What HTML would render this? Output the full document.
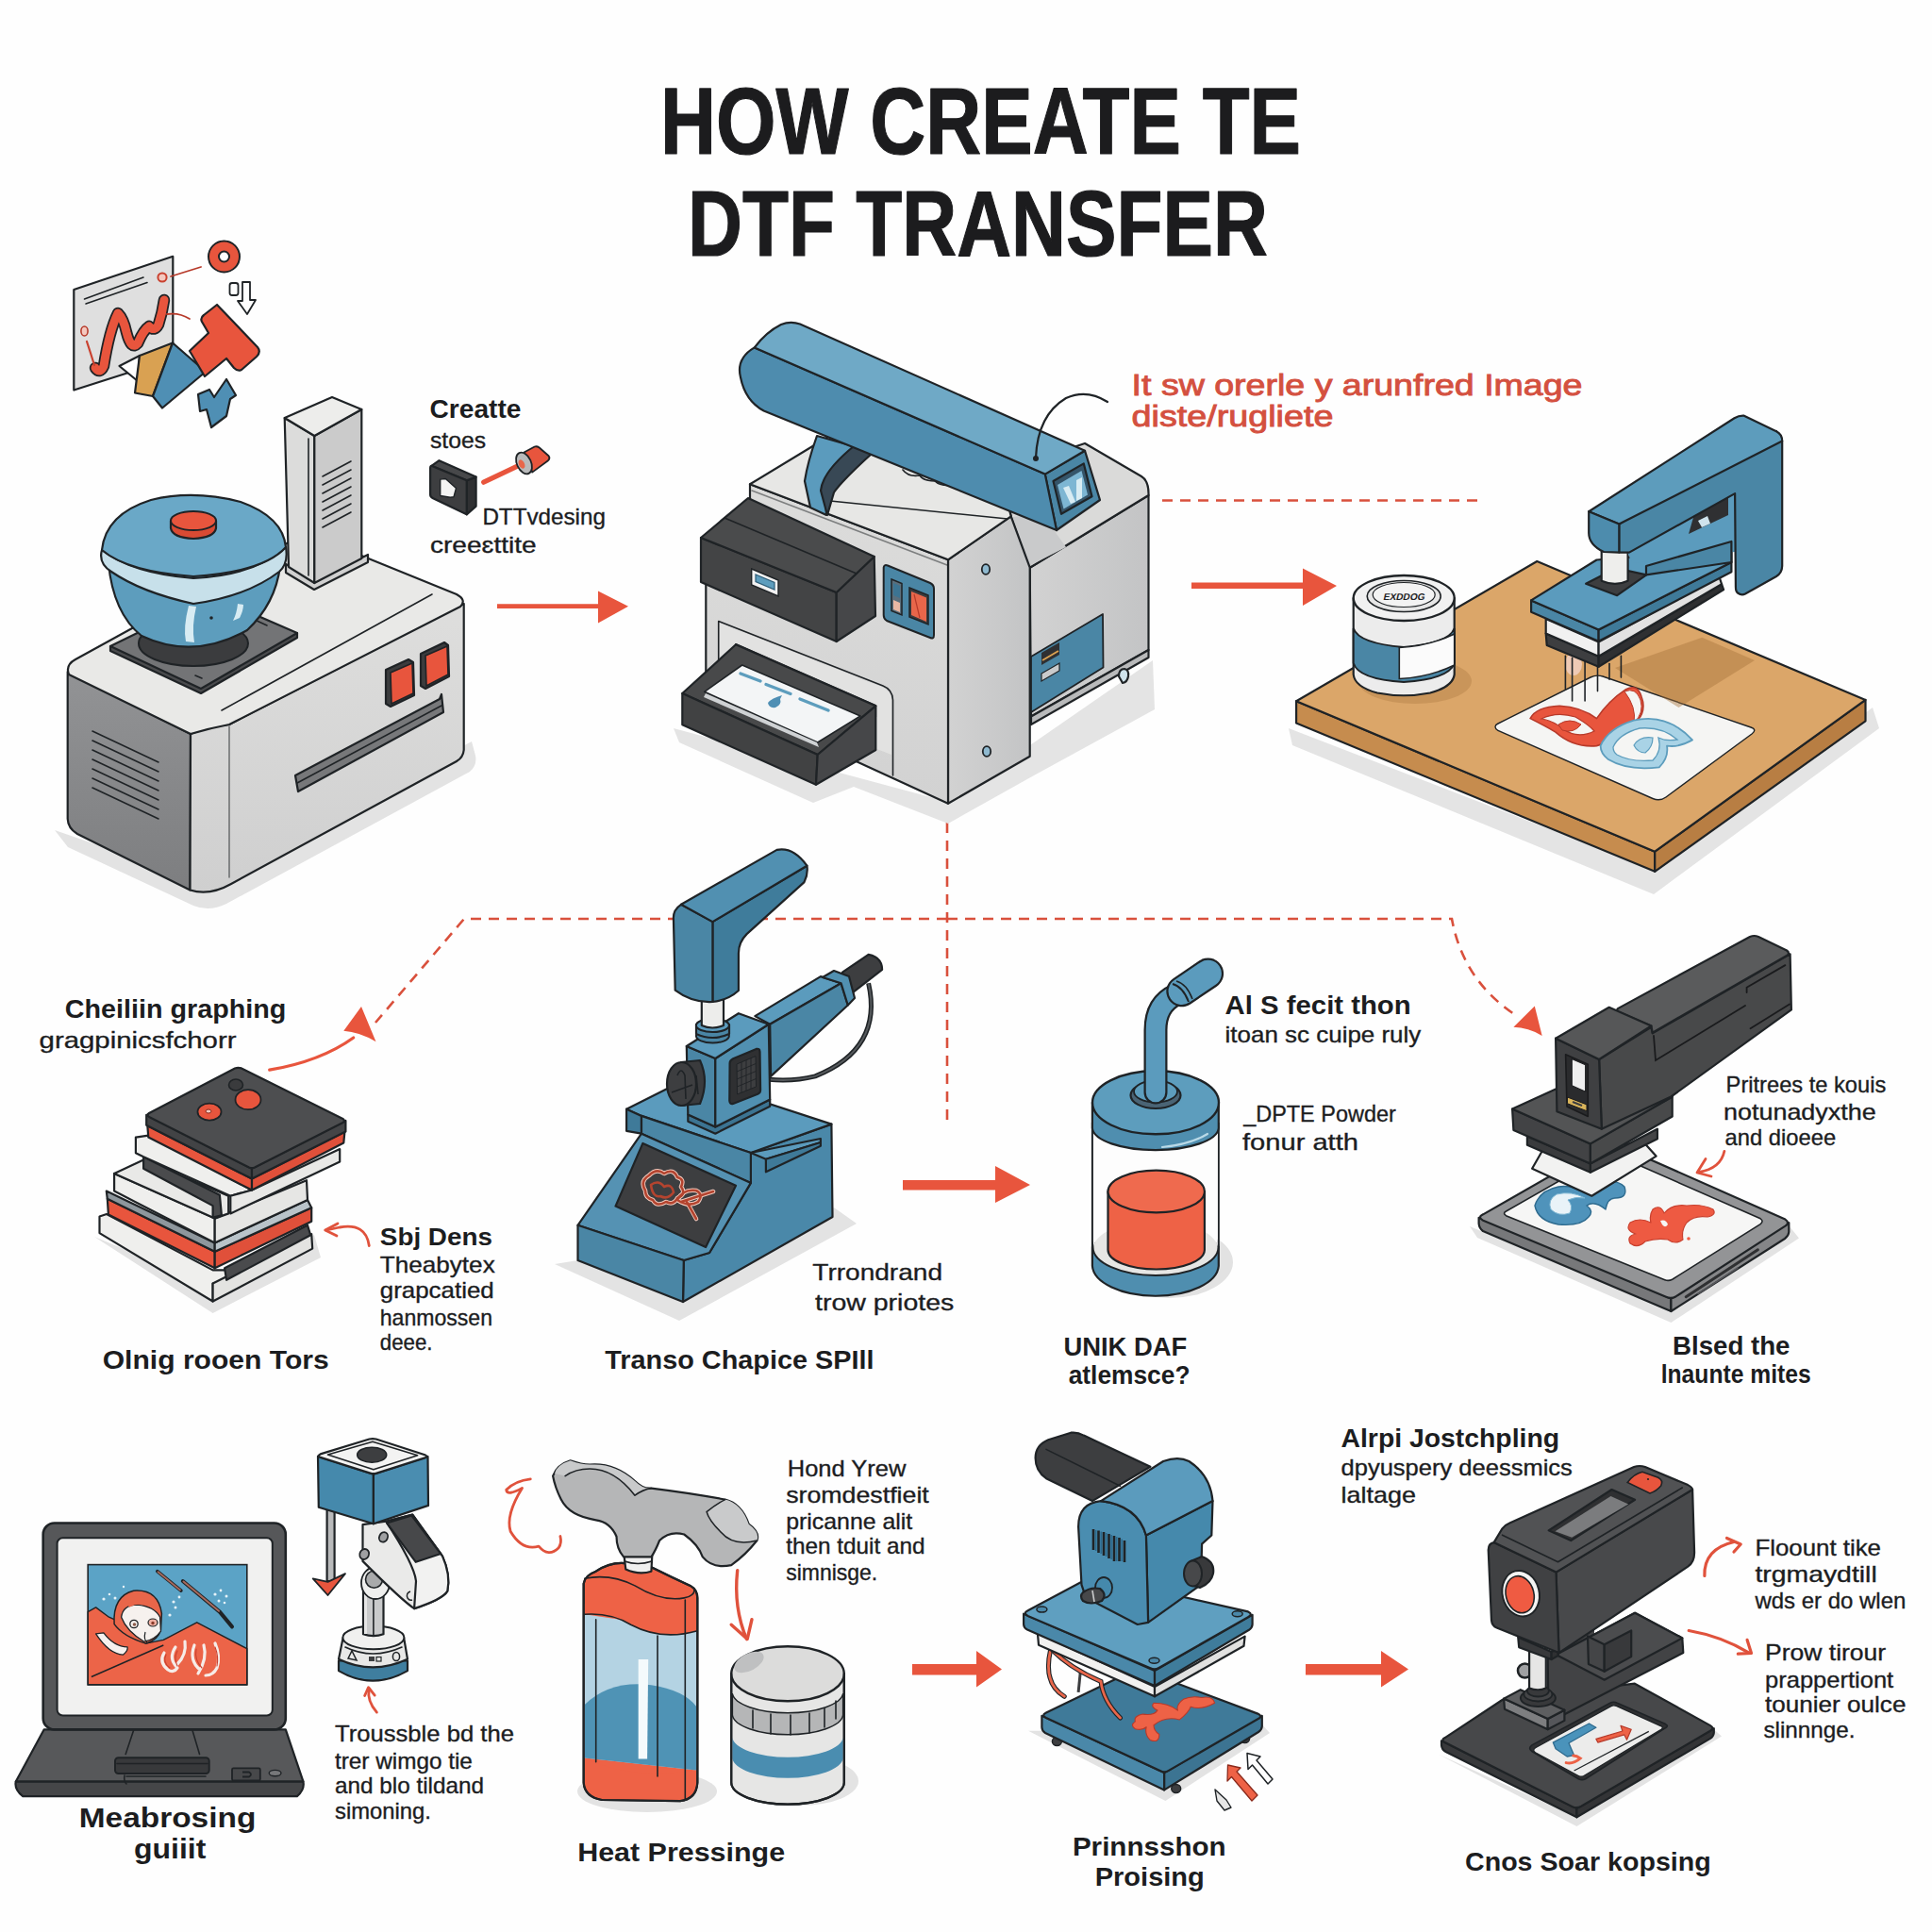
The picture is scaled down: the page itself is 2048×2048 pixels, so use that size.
<!DOCTYPE html>
<html><head><meta charset="utf-8"><title>How Create Te DTF Transfer</title>
<style>
html,body{margin:0;padding:0;background:#fdfdfd;}
body{width:2048px;height:2048px;overflow:hidden;font-family:"Liberation Sans",sans-serif;}
svg{display:block;position:absolute;left:0;top:0;}
svg text{font-family:"Liberation Sans",sans-serif;}
.o{stroke:#1f2326;stroke-width:2.2;stroke-linejoin:round;stroke-linecap:round;}
.t{stroke:#1f2326;stroke-width:1.6;stroke-linejoin:round;stroke-linecap:round;fill:none;}
.n{stroke:none;}
</style></head><body>
<svg width="2048" height="2048" viewBox="0 0 2048 2048">
<!-- 00_base.svg -->
<rect x="0" y="0" width="2048" height="2048" fill="#fefefe"/>
<g id="title" fill="#1c1c1e" stroke="#1c1c1e" stroke-width="1.2" stroke-linejoin="round" font-weight="bold">
<text x="700" y="163" font-size="100" textLength="679" lengthAdjust="spacingAndGlyphs">HOW CREATE TE</text>
<text x="729" y="271" font-size="98" textLength="615" lengthAdjust="spacingAndGlyphs">DTF TRANSFER</text>
</g>
<g id="dashes" fill="none" stroke="#d9503c" stroke-width="2.6" stroke-dasharray="11 8">
<path d="M1232 530.5 H1566"/>
<path d="M1004 872 V1192"/>
<path d="M1004 974 H492 L398 1084"/>
<path d="M1004 974 H1539 Q1551 1040 1608 1077"/>
</g>
<g id="arrows" fill="#e8553d" stroke="none">
<path d="M527 640.3 H634 V626.5 L666 642.7 L634 660.5 V645 H527 Z"/>
<path d="M1263 617.5 H1381 V602.5 L1417 621 L1381 642 V624 H1263 Z"/>
<path d="M957 1251 H1055 V1236 L1092 1256 L1055 1275 V1261.5 H957 Z"/>
<path d="M967 1764 H1035 V1750 L1062 1769.5 L1035 1788.5 V1775.5 H967 Z"/>
<path d="M1384 1764 H1464 V1750 L1493 1769.5 L1464 1788.5 V1775.5 H1384 Z"/>
</g>

<!-- 10_machine1.svg -->
<g id="machine1">
<defs>
<linearGradient id="m1left" x1="0" y1="0" x2="0" y2="1"><stop offset="0" stop-color="#929395"/><stop offset="1" stop-color="#7d7e80"/></linearGradient>
<linearGradient id="m1right" x1="0" y1="0" x2="0" y2="1"><stop offset="0" stop-color="#dededd"/><stop offset="1" stop-color="#cfcfcf"/></linearGradient>
</defs>
<!-- shadow -->
<path d="M58 880 L72 898 L205 960 Q222 967 240 958 L498 818 Q506 811 504 801 L500 786 L220 936 Z" fill="#e3e3e3"/>
<!-- left face -->
<path class="o" d="M71.7 712 L202 778 L201.5 943.5 L82 884 Q72 878 71.7 868 Z" fill="url(#m1left)"/>
<!-- front corner + right face -->
<path class="o" d="M202 778 Q222 770 243 768 L491.7 640 L491.7 795 Q491 803 484 807 L245 937 Q222 950 201.5 943.5 Z" fill="url(#m1right)"/>
<path class="t" d="M243 770 V930" stroke-width="1.2" opacity="0.55"/>
<!-- top face -->
<path class="o" d="M73 715 Q69 705 80 699 L324 565 L484 630 Q495 636 488 643 L243 768 Q222 772 202 778 Z" fill="#e9e9e7"/>
<path class="t" d="M235 753 L458 630" stroke-width="1.3"/>
<!-- vents on left -->
<g class="t" stroke-width="1.8" stroke="#3a3b3d">
<path d="M98 775 L168 808"/><path d="M98 785 L168 818"/><path d="M98 795 L168 828"/><path d="M98 805 L168 838"/><path d="M98 815 L168 848"/><path d="M98 825 L168 858"/><path d="M98 835 L168 868"/>
</g>
<!-- slot -->
<path class="o" d="M313 822 L466 741 L468 736 L470 755 L316 839 Z" fill="#77787a" stroke-width="2"/>
<path class="t" d="M315 830 L468 748" stroke-width="1.5"/>
<!-- buttons -->
<path class="o" d="M409 710 L433 699 L438 702 L439 737 L414 749 L409 746 Z" fill="#3b3c3e" stroke-width="2"/>
<path d="M414 713 L437 703 L438 735 L415 746 Z" fill="#e8553d" stroke="#1f2326" stroke-width="1.6"/>
<path class="o" d="M446 693 L471 681 L475 684 L476 717 L451 730 L446 727 Z" fill="#3b3c3e" stroke-width="2"/>
<path d="M451 695 L474 685 L475 715 L452 727 Z" fill="#e8553d" stroke="#1f2326" stroke-width="1.6"/>
<!-- column -->
<path class="o" d="M303 598 L333 616 L390 588 L390 596 L333 625 L303 607 Z" fill="#d0d0d0" stroke-width="2"/>
<path class="o" d="M301.7 443 L333.3 462 L333.3 618 L306 601 Z" fill="#dcdcdb"/>
<path class="o" d="M333.3 462 L383.3 434 L383.3 592 L333.3 618 Z" fill="#cbcbcb"/>
<path class="o" d="M301.7 443 L352 421 L383.3 434 L333.3 462 Z" fill="#ededeb"/>
<path class="t" d="M327 465 V610" stroke-width="1.2"/>
<g class="t" stroke-width="1.7" stroke="#3a3b3d">
<path d="M342 505 L372 489"/><path d="M342 514 L372 498"/><path d="M342 523 L372 507"/><path d="M342 532 L372 516"/><path d="M342 541 L372 525"/><path d="M342 550 L372 534"/><path d="M342 559 L372 543"/>
</g>
<!-- plate under bowl -->
<path class="o" d="M117 685 L117 690 L213 735 L315 676 L315 671 Z" fill="#4a4b4d" stroke-width="2"/>
<path class="o" d="M117 685 L213 730 L315 671 L225 632 Z" fill="#737476" stroke-width="2"/>
<path class="t" d="M207 716 L214 719" stroke-width="1.5"/><path class="t" d="M270 657 L283 663" stroke-width="1.5"/>
<ellipse cx="205" cy="682" rx="58" ry="24" fill="#3b3c3e" stroke="#1f2326" stroke-width="2"/>
<!-- bowl lower -->
<path class="o" d="M115 597 Q120 650 150 674 Q205 700 262 668 Q292 640 297 600 Z" fill="#5d9dbd"/>
<path d="M200 642 Q194 665 197 680 L206 681 Q203 664 208 643 Z" fill="#d8ecf3"/>
<path d="M252 640 Q251 650 247 658 L254 655 Q258 647 258 641 Z" fill="#d8ecf3"/>
<circle cx="224" cy="655" r="1.8" fill="#1f2326"/>
<!-- rim band -->
<path class="o" d="M108 583 Q104 597 118 606 Q150 628 205 640 Q262 632 296 606 Q306 597 303 580 Q270 610 205 613 Q140 608 108 583 Z" fill="#c7e0ea"/>
<!-- lid -->
<path class="o" d="M108 583 Q112 545 160 530 Q205 519 255 532 Q300 548 303 580 Q280 606 205 611 Q135 606 108 583 Z" fill="#6aa8c7"/>
<!-- red button -->
<path class="o" d="M181 552 V560 Q183 570 205 571 Q227 570 229 560 V552 Z" fill="#d84a33" stroke-width="2"/>
<ellipse cx="205" cy="552" rx="24" ry="10" fill="#e8553d" stroke="#1f2326" stroke-width="2"/>
</g>

<!-- 11_art.svg -->
<g id="art">
<!-- paper -->
<path class="o" d="M78.3 307 L183.3 271.8 L183.3 380 L78.3 413.5 Z" fill="#dfdfdf" stroke-width="2"/>
<path class="t" d="M89.5 317 L152 294" stroke-width="1.6"/><path class="t" d="M91 322 L156 299.5" stroke-width="1.6"/>
<!-- squiggle -->
<path d="M101 390 Q106 397 110 388 Q116 350 125 332 Q131 338 134 352 Q139 372 146 364 Q152 350 158 346 Q164 352 168 344 Q172 332 174 318" fill="none" stroke="#1f2326" stroke-width="12.5" stroke-linecap="round" stroke-linejoin="round"/>
<path d="M101 390 Q106 397 110 388 Q116 350 125 332 Q131 338 134 352 Q139 372 146 364 Q152 350 158 346 Q164 352 168 344 Q172 332 174 318" fill="none" stroke="#e8553d" stroke-width="9" stroke-linecap="round" stroke-linejoin="round"/>
<path d="M92 362 Q96 374 100 387" fill="none" stroke="#c9412f" stroke-width="2.2" stroke-linecap="round"/>
<ellipse cx="89.5" cy="351" rx="3.6" ry="5" fill="#f4c9c0" stroke="#b73a2a" stroke-width="1.6"/>
<circle cx="172" cy="294" r="4.6" fill="#f4c9c0" stroke="#c9412f" stroke-width="2"/>
<path d="M181 293 L213 283" stroke="#b73a2a" stroke-width="1.8" fill="none" stroke-linecap="round"/>
<path d="M177 333 Q190 331 201 338" stroke="#b73a2a" stroke-width="1.8" fill="none" stroke-linecap="round"/>
<!-- donut -->
<circle cx="237.5" cy="272" r="11" fill="none" stroke="#1f2326" stroke-width="13"/>
<circle cx="237.5" cy="272" r="11" fill="none" stroke="#e8553d" stroke-width="9"/>
<!-- small icon -->
<rect x="243.5" y="300" width="9" height="13" rx="2.5" fill="#fefefe" stroke="#1f2326" stroke-width="1.8"/>
<path d="M257 299 H265 V318 H271 L262 333 L252 319 H257 Z" fill="#fefefe" stroke="#1f2326" stroke-width="1.8" stroke-linejoin="round"/>
<!-- white triangle / orange / blue -->
<path class="o" d="M126.5 388 L148 377 L146 404 Z" fill="#fefefe" stroke-width="2"/>
<path class="o" d="M148 377 L183 363.5 L162 420 L143 416.5 Z" fill="#d9a152" stroke-width="2"/>
<path class="o" d="M183 363.5 L218 394 L172 432.5 L162 420 Z" fill="#4f8fb4" stroke-width="2"/>
<!-- T -->
<path class="o" d="M230 323 L273 368 Q277 373 272 378 L256 392 Q252 394 248 390 L240 380 L217 399 L201 372 L221 353 L214 341 Q212 337 216 334 Z" fill="#e8553d" stroke-width="2"/>
<!-- shirt -->
<path class="o" d="M210 418 L222 413 L227 421 L240 402 L250 419 L244 423 L240 441 L224 453 L219 434 L212 436 Z" fill="#4f8fb4" stroke-width="2"/>
</g>

<!-- 20_printer.svg -->
<g id="printer">
<defs>
<linearGradient id="prR" x1="0" y1="0" x2="1" y2="0"><stop offset="0" stop-color="#d2d2d2"/><stop offset="1" stop-color="#c3c4c5"/></linearGradient>
<linearGradient id="prF" x1="0" y1="0" x2="0" y2="1"><stop offset="0" stop-color="#dcdcdb"/><stop offset="1" stop-color="#d2d2d2"/></linearGradient>
</defs>
<!-- shadow -->
<path d="M714 772 L720 787 L862 851 L905 834 L1005 873 L1096 822 L1224 752 L1222 700 L1005 850 Z" fill="#e4e4e4"/>
<!-- far right face -->
<path class="o" d="M1091.7 601.7 L1217.5 525 L1217.5 689 L1093 759.5 Z" fill="url(#prR)"/>
<path class="o" d="M1093 759.5 L1217.5 689 L1217.5 697 L1093 768 Z" fill="#b9babb" stroke-width="2"/>
<path class="o" d="M1186 717 q0 -8 6 -8 q5 1 4 8 q-1 6 -6 7 Z" fill="#cfe3ec" stroke-width="1.8"/>
<!-- blue panel far -->
<path d="M1093 696 L1169 651 L1169.5 707.5 L1093 755 Z" fill="#4a86a5" stroke="#1f2326" stroke-width="1.8" stroke-linejoin="round"/>
<path d="M1104 692 L1123 681 L1123 694 L1104 705 Z" fill="#2f3032"/>
<path d="M1105 700 L1122 690" stroke="#d9a152" stroke-width="2"/>
<path d="M1104 714 L1123 703 L1123 711 L1104 722 Z" fill="#c9cacb" stroke="#1f2326" stroke-width="1.2"/>
<!-- far top -->
<path class="o" d="M1071.7 547.3 L1060 500 L1150 470 L1210 505 Q1218 510 1217.5 525 L1091.7 601.7 Z" fill="#dadad9"/>
<path d="M1073 548 L1091 600 L1130 580 L1105 545 Z" fill="#c9cacb"/>
<!-- near right face -->
<path class="o" d="M1005 593.3 L1071.7 547.3 L1091.7 601.7 L1091.7 801.7 L1005 851.7 Z" fill="url(#prR)"/>
<ellipse cx="1045" cy="603.5" rx="4.2" ry="5.4" fill="#8fb9cf" stroke="#1f2326" stroke-width="1.8"/>
<ellipse cx="1046" cy="796.5" rx="4.2" ry="5.4" fill="#8fb9cf" stroke="#1f2326" stroke-width="1.8"/>
<!-- front-left face -->
<path class="o" d="M748.3 600 L795 542 L795 513.3 L1005 593.3 L1005 851.7 L748.3 734 Z" fill="url(#prF)"/>
<path class="t" d="M761.7 745 V658.5 L936 727 Q946 731 946.5 742 V822" stroke-width="1.6"/>
<path d="M763 745 V660.5 L934 728 Q944.5 732 945 742 V800 L790 740 Z" fill="#e2e2e1"/>
<!-- top near -->
<path class="o" d="M795 513.3 L880 461.7 L1060 500 L1071.7 547.3 L1005 593.3 Z" fill="#e7e7e5"/>
<path class="t" d="M797 520 L1004 599" stroke-width="1.1" opacity="0.5"/>
<path class="t" d="M880 531 L1068 550" stroke-width="1.2"/>
<path class="t" d="M957 498 q6 8 18 6 q4 6 16 6 q6 6 20 4" stroke-width="1.4"/>
<!-- control panel -->
<path d="M936.7 601.7 Q937 598 941 599.5 L986 618 Q990 620 990 624 L990 673 Q990 678 986 676 L940 658 Q936.7 656 936.7 652 Z" fill="#4a86a5" stroke="#1f2326" stroke-width="2"/>
<path d="M945 614 L956 618.5 L956 652 L945 647.5 Z" fill="#5b6f7c" stroke="#1f2326" stroke-width="1.5"/>
<path d="M947 618 L954 621 L954 634 L947 631 Z" fill="#3c7492"/>
<path d="M947 636 L954 639 L954 649 L947 646 Z" fill="#e9b7a3"/>
<path d="M964 623 L984 631 L984 662 L964 654 Z" fill="#3b3c3e" stroke="#1f2326" stroke-width="1.5"/>
<path d="M966 627 L982 633.5 L982 659 L966 652 Z" fill="#e8664a"/>
<path d="M969 630 L975 655" stroke="#b73a2a" stroke-width="1.2" fill="none"/>
<!-- black box -->
<path class="o" d="M743 570 L886.7 628 L886.7 680 L743 617 Z" fill="#434445"/>
<path class="o" d="M886.7 628 L926.7 590 L928 653 L886.7 680 Z" fill="#464749"/>
<path class="o" d="M743 570 L793 528 L926.7 590 L886.7 628 Z" fill="#4a4b4c"/>
<path class="t" d="M768 549 L908 608" stroke-width="1.6"/>
<path d="M796.7 603 L825 615 L825 632 L796.7 620 Z" fill="#f2f2f2" stroke="#1f2326" stroke-width="1.4"/>
<path d="M801 609 L821 617.5 L821 625 L801 616.5 Z" fill="#5d9dbd" stroke="#2d5d78" stroke-width="1.2"/>
<!-- tray -->
<path class="o" d="M780 683 L928 748 L928 760 L780 700 Z" fill="#363739"/>
<path class="o" d="M723.3 735 L780 683.3 L928.3 748.3 L866.7 800 Z" fill="#48494a"/>
<path d="M746.7 733.3 L786.7 705 L912 759 L866.7 787 Z" fill="#f3f5f6" stroke="#1f2326" stroke-width="1.6" stroke-linejoin="round"/>
<path d="M748 735 L866 787 L868 792 L746 739 Z" fill="#cfd2d4"/>
<path d="M785 714 L806 722" stroke="#5d9dbd" stroke-width="3.4" stroke-linecap="round"/>
<path d="M812 725.5 L838 735.5" stroke="#5d9dbd" stroke-width="3.4" stroke-linecap="round"/>
<path d="M848 741 L878 753" stroke="#5d9dbd" stroke-width="3.4" stroke-linecap="round"/>
<path d="M829 737 Q818 740 814 745 Q815 751 822 750 Q829 747 827 741 Z" fill="#4f8fb4"/>
<path class="o" d="M723.3 735 L866.7 800 L865 831.7 L723.3 768.3 Z" fill="#414243"/>
<path class="o" d="M866.7 800 L928.3 748.3 L928.3 795 L865 831.7 Z" fill="#464749"/>
<!-- arm bracket -->
<path class="o" d="M866 462 L922 478 Q880 500 875 520 L876 546 L859 538 L853 510 Q856 490 866 462 Z" fill="#5b9bbd"/>
<path class="o" d="M905 473 L925 480 Q892 510 884 522 L877 546 L870 520 Q872 500 905 473 Z" fill="#384855" stroke-width="2"/>
<!-- arm -->
<path class="o" d="M1107.8 502.6 L1150 477.8 L1166 530 L1120 562 Z" fill="#4a86a5"/>
<path class="o" d="M1116.5 510 L1148.8 491.4 L1157.5 526.2 L1125 544.8 Z" fill="#35556a" stroke-width="2"/>
<path d="M1121 514 L1146.5 499 L1153 524.5 L1127.5 539.5 Z" fill="#7db6d3"/>
<path d="M1127 517 L1133 515 L1140 532 L1135 534 Z" fill="#d8ecf3"/><path d="M1141 509 L1147 506 L1147 528 L1141 531 Z" fill="#d8ecf3"/>
<path class="o" d="M799.8 368.4 Q780 380 785 400 Q790 425 809.7 435.5 L1120 562 L1107.8 502.6 Z" fill="#4e8cae"/>
<path class="o" d="M799.8 368.4 Q812 352 828 344 Q838 340 848 343.5 L1150 477.8 L1107.8 502.6 Z" fill="#6fa9c6"/>
<!-- callout -->
<path d="M1098 485 Q1100 440 1130 422 Q1152 412 1174 426" fill="none" stroke="#1f2326" stroke-width="2.2" stroke-linecap="round"/>
<circle cx="1098" cy="486" r="3" fill="#1f2326"/>
</g>

<!-- 30_powderpress.svg -->
<g id="powderpress">
<!-- shadow -->
<path d="M1366 772 L1370 790 L1753 948 L1992 772 L1985 750 L1754 922 Z" fill="#e4e4e4"/>
<!-- board -->
<path class="o" d="M1374.1 743.2 L1754.2 902.7 L1754.2 923.8 L1374.1 766.6 Z" fill="#c68c4e"/>
<path class="o" d="M1754.2 902.7 L1977.5 741.9 L1977.5 764.3 L1754.2 923.8 Z" fill="#b87e43"/>
<path class="o" d="M1374.1 743.2 L1629.3 595 L1977.5 741.9 L1754.2 902.7 Z" fill="#dba669"/>
<!-- jar shadow -->
<ellipse cx="1500" cy="722" rx="60" ry="24" fill="#c9955a"/>
<!-- paper -->
<path d="M1588 767 L1686 718 Q1692.2 714.9 1699 717 L1856 771 Q1862.9 773.3 1857 778 L1766 845 Q1759.6 849.7 1752 846.5 L1588 774.5 Q1582 770 1588 767 Z" fill="#f5f5f3" stroke="#1f2326" stroke-width="1.4"/>
<!-- press shadow on board -->
<path d="M1712 708 L1804.3 675.7 L1860 700 L1779.5 750 Z" fill="#a9753f" opacity="0.45"/>
<!-- art -->
<path d="M1622.1 761.6 Q1628.3 749.2 1653.2 748.2 Q1675.9 749.2 1692.5 761.6 Q1704.9 743 1723.6 730.6 Q1736 724.3 1740.1 738.8 Q1746.3 755.4 1731.8 767.8 Q1717.3 784.4 1692.5 790.6 Q1667.7 792.7 1649 776.1 Q1638.7 769.9 1622.1 761.6 Z" fill="#e8553d" stroke="#b73a2a" stroke-width="1.6" stroke-linejoin="round"/>
<path d="M1634 762 Q1650 754 1670 760 Q1684 768 1690 775 Q1672 784 1656 772 Q1646 764 1634 762 Z" fill="#f5f5f3" stroke="#b73a2a" stroke-width="1.2"/>
<path d="M1652 768 Q1664 760 1676 768 Q1668 778 1656 774 Z" fill="#e8553d" stroke="#b73a2a" stroke-width="1"/>
<path d="M1722 733 Q1734 728 1739 742 Q1743 756 1732 766 Q1735 750 1722 733 Z" fill="#f5f5f3" stroke="#b73a2a" stroke-width="1"/>
<path d="M1696.6 790.6 Q1704.9 772 1731.8 763.7 Q1767 755.4 1794 784.4 Q1779.5 792.7 1767 790.6 Q1769.1 803 1758.8 813.4 Q1725.6 817.5 1704.9 805.1 Q1696.6 798.9 1696.6 790.6 Z" fill="#a9d3e6" stroke="#5d9dbd" stroke-width="1.8" stroke-linejoin="round"/>
<path d="M1710 792 Q1716 778 1738 772 Q1762 770 1778 784 Q1766 786 1758 782 Q1762 796 1752 806 Q1728 808 1714 800 Q1710 797 1710 792 Z" fill="#f5f5f3" stroke="#5d9dbd" stroke-width="1.3"/>
<path d="M1732 790 Q1738 780 1752 782 Q1752 792 1744 798 Q1736 798 1732 790 Z" fill="#a9d3e6" stroke="#5d9dbd" stroke-width="1.2"/>
<!-- falling lines -->
<ellipse cx="1668" cy="704" rx="9" ry="12" fill="#f2d3c8" opacity="0.8"/>
<g class="t" stroke-width="1.5">
<path d="M1659.4 695.4 V730.6"/><path d="M1666.6 697.4 V743"/><path d="M1680.1 699.5 V743"/><path d="M1693.5 705.7 V732.6"/><path d="M1706 703.6 V720.2"/><path d="M1718.4 695.4 V718.1"/>
</g>
<!-- jar -->
<path class="o" d="M1434.7 634 V715 Q1436 728 1460 734.5 Q1488 740 1516 734.5 Q1540 728 1541.7 715 V634 Z" fill="#ececec"/>
<path d="M1434.7 666 Q1440 682 1488 686 Q1536 682 1541.7 666 V703 Q1536 720 1488 723 Q1440 720 1434.7 703 Z" fill="#4a86a5" stroke="#1f2326" stroke-width="2"/>
<path d="M1483.3 686.5 Q1515 685 1541.7 672 V705 Q1515 718 1483.3 719.5 Z" fill="#fbfbfb" stroke="#1f2326" stroke-width="1.6"/>
<ellipse cx="1488.2" cy="634" rx="53.5" ry="24" fill="#f1f1f1" stroke="#1f2326" stroke-width="2.4"/>
<ellipse cx="1488.2" cy="632" rx="39" ry="16.5" fill="#e6e6e6" stroke="#1f2326" stroke-width="1.6"/>
<ellipse cx="1488.2" cy="630.5" rx="33" ry="13" fill="#f3f3f3" stroke="#1f2326" stroke-width="1.2"/>
<text x="0" y="0" font-size="10" font-weight="bold" fill="#1f2326" transform="translate(1466,636) skewX(-12)" textLength="44" lengthAdjust="spacingAndGlyphs">EXDDOG</text>
<!-- plate layers -->
<path class="o" d="M1638.7 671.6 L1694.6 695.8 L1694.6 706.7 L1639.7 684 Z" fill="#3d3e40" stroke-width="2"/>
<path class="o" d="M1694.6 695.8 L1825 619.2 L1827.1 625 L1694.6 706.7 Z" fill="#2f3032" stroke-width="2"/>
<path class="o" d="M1638.7 656 L1694.6 680.5 L1694.6 695.8 L1638.7 671.6 Z" fill="#f1f1f1" stroke-width="2"/>
<path class="o" d="M1694.6 680.5 L1822.5 611.5 L1825 619.2 L1694.6 695.8 Z" fill="#e2e2e2" stroke-width="2"/>
<path class="o" d="M1623.1 636.4 L1694.6 667.4 L1694.6 679.8 L1623.1 648.8 Z" fill="#4a86a5"/>
<path class="o" d="M1694.6 667.4 L1835.4 596 L1835.4 606.3 L1694.6 679.8 Z" fill="#3f7a99"/>
<path class="o" d="M1623.1 636.4 L1692.5 593.5 L1835.4 581.5 L1835.4 596 L1694.6 667.4 Z" fill="#5b9bbd"/>
<path class="o" d="M1681.1 618.8 L1713.2 602.2 L1745.3 609.4 L1714.2 631.2 Z" fill="#3d3e40" stroke-width="2"/>
<!-- rod -->
<path class="o" d="M1697.7 580 L1725.6 580 L1725.6 615.7 Q1712.2 621.9 1697.7 615.7 Z" fill="#eeeeec"/>
<!-- arm -->
<path d="M1725 585 L1839 523 L1839 585 L1730 597 Z" fill="#5b9bbd"/>
<path d="M1796 545 L1832 527 L1832 546 L1790 566 Z" fill="#2f3032"/>
<path d="M1800 552 L1810 547 L1813 555 L1804 559 Z" fill="#cfe3ec"/>
<path class="o" d="M1745 600 L1835.4 574 L1835.4 596 L1745 609.4 Z" fill="#4a86a5" stroke-width="2"/>
<path class="o" d="M1716.3 555.6 L1883 457 L1889.2 467.6 L1889.2 600 Q1889 607.4 1883 611 L1850 629.5 Q1846 631.5 1842 628.5 Q1839.9 627 1839.9 622 L1839.1 523.1 L1727 585.6 L1716.3 585.6 Z" fill="#4a86a5"/>
<path class="o" d="M1684.2 542.2 L1838.5 443.2 Q1843.6 440.3 1848.8 440.7 L1883 457.3 Q1889.2 460.4 1889.2 467.6 L1716.3 555.6 Z" fill="#5d9cbc"/>
<path class="o" d="M1684.2 542.2 L1716.3 555.6 L1716.3 585.6 L1700 585 Q1684.2 577.3 1684.2 564.9 Z" fill="#4d8cad"/>
</g>

<!-- 40_pads.svg -->
<g id="pads">
<path d="M100 1311 L225.6 1392 L340 1333 L333 1309 L225.6 1363 Z" fill="#e3e3e3"/>
<g class="o" stroke-width="2.3">
<path d="M105.5 1289.5 L113 1287 L225.6 1346.4 L240.1 1346.4 L240.1 1356.8 L225.6 1360.5 L225.6 1379.5 L105.5 1307.1 Z" fill="#efefed"/>
<path d="M225.6 1360.5 L330.2 1308.1 L331.2 1323.6 L225.6 1379.5 Z" fill="#e3e3e1"/>
<path d="M238.1 1344.3 L326 1298.8 L329.2 1309.2 L240.1 1356.8 Z" fill="#4a4b4d"/>
<path d="M113.8 1270.8 L227.7 1326.7 L227.7 1344.3 L114.9 1287.4 Z" fill="#e8553d"/>
<path d="M227.7 1326.7 L330.2 1280.2 L330.2 1294.7 L227.7 1344.3 Z" fill="#e0503a"/>
<path d="M112.8 1262.6 L227.7 1317.4 L227.7 1326.7 L113.8 1270.8 Z" fill="#8e979d"/>
<path d="M227.7 1317.4 L326 1271.9 L330.2 1280.2 L227.7 1326.7 Z" fill="#b9c3c9"/>
<path d="M121.1 1243.9 L227.7 1291.6 L227.7 1317.4 L121.1 1262.6 Z" fill="#efefed"/>
<path d="M227.7 1291.6 L325 1251.2 L326 1271.9 L227.7 1317.4 Z" fill="#e6e6e4"/>
<path d="M121.1 1243.9 L152.1 1229.4 L242.2 1267.7 L242.2 1286.4 L227.7 1291.6 Z" fill="#e9e9e7"/>
<path d="M152.1 1226.3 L232.9 1266.7 L234.9 1288.4 L225.6 1290.5 L225.6 1278.1 L152.1 1238.8 Z" fill="#4a4b4d"/>
<path d="M143.9 1205.6 L157.3 1203.6 L267 1261.5 L244.3 1267.7 L152.1 1226.3 L143.9 1222.2 Z" fill="#efefed"/>
<path d="M244.3 1267.7 L267 1261.5 L360.2 1218.1 L360.2 1231.5 L244.3 1286.4 Z" fill="#e8e8e6"/>
<path d="M156.3 1193.2 L267 1249.5 L267 1261.5 L157.3 1205.6 Z" fill="#e8553d"/>
<path d="M267 1249.5 L365.4 1199.8 L364.3 1211.4 L267 1261.5 Z" fill="#e0503a"/>
<path d="M155.2 1181.8 L267 1238.8 L267 1249.5 L155.2 1192.8 Z" fill="#424345"/>
<path d="M267 1238.8 L366.4 1188 L366.4 1199.4 L267 1249.5 Z" fill="#444547"/>
<path d="M158 1180 L249 1132.5 Q252.5 1131.1 256 1132.5 L363.5 1186 Q366.4 1188 363.5 1190 L270 1237.5 Q267 1238.8 264 1237.5 L158 1184 Q155.2 1181.8 158 1180 Z" fill="#4d4e50"/>
</g>
<ellipse cx="250" cy="1150" rx="7.5" ry="6" fill="#3a3b3d" stroke="#1f2326" stroke-width="1.6"/>
<ellipse cx="263" cy="1165.7" rx="13.5" ry="10.5" fill="#e8553d" stroke="#1f2326" stroke-width="1.8"/>
<ellipse cx="222" cy="1178.7" rx="12.5" ry="9" fill="#e8553d" stroke="#1f2326" stroke-width="1.8"/>
<ellipse cx="221" cy="1178" rx="3" ry="2" fill="#f4c9c0" stroke="#8b2a1c" stroke-width="1"/>
</g>

<!-- 50_heatpress.svg -->
<g id="heatpress">
<path d="M588 1340 L720 1400 L908 1297 L884 1280 L724 1380 L612.5 1336 Z" fill="#e3e3e3"/>
<!-- cable -->
<path d="M920.6 1042.3 Q936.5 1111.9 864.1 1140.9 Q840.9 1146.7 815 1144.3" fill="none" stroke="#1f2326" stroke-width="5"/>
<path d="M920.6 1042.3 Q936.5 1111.9 864.1 1140.9 Q840.9 1146.7 815 1144.3" fill="none" stroke="#55595c" stroke-width="2"/>
<!-- base -->
<path class="o" d="M795.9 1222 L881.4 1191.6 L882.5 1290 L724 1380 L724.8 1336 L752 1328 L795.9 1253.9 Z" fill="#4a88a9"/>
<path class="o" d="M664.1 1175.7 L730.7 1142.3 L881.4 1191.6 L795.9 1222 L680 1182.9 Z" fill="#5b9bbd"/>
<path class="o" d="M664.1 1175.7 L680 1182.9 L680 1201.7 L664.1 1198.8 Z" fill="#3f7a99" stroke-width="2"/>
<path class="o" d="M680 1182.9 L795.9 1222 L795.9 1253.9 L680 1201.7 Z" fill="#4a86a5" stroke-width="2"/>
<path class="o" d="M612.5 1298.8 L680 1201.7 L795.9 1253.9 L752 1328 L724.8 1336 Z" fill="#5592b3"/>
<path class="o" d="M612.5 1298.8 L724.8 1336 L724 1380 L612.5 1336 Z" fill="#4a86a5"/>
<path class="o" d="M795.9 1222 L869.9 1207 L869.9 1211 L811.9 1228.7 Z" fill="#5b9bbd" stroke-width="1.8"/>
<path class="o" d="M811.9 1228.7 L869.9 1211 L869.9 1214.8 L811.9 1242.3 Z" fill="#3f7a99" stroke-width="1.8"/>
<!-- screen -->
<path class="o" d="M681.4 1211.9 L780 1256.8 L748.1 1322 L652.5 1278.6 Z" fill="#3d3e40" stroke-width="2"/>
<g fill="none" stroke="#f0c9bd" stroke-width="4.6" stroke-linecap="round" stroke-linejoin="round">
<path d="M684 1262 q-6 -10 4 -16 q8 -8 16 -2 q10 -6 14 4 q8 2 4 10 q6 8 -4 12 q-4 8 -12 4 q-10 6 -14 -2 q-8 -2 -8 -10 Z"/>
<path d="M718 1272 q6 -12 20 -10 q8 4 2 12 q-10 6 -22 -2 Z"/><path d="M722 1274 L756 1263"/><path d="M728 1274 L738 1292"/>
</g>
<g fill="none" stroke="#b4442f" stroke-width="2.6" stroke-linecap="round" stroke-linejoin="round">
<path d="M684 1262 q-6 -10 4 -16 q8 -8 16 -2 q10 -6 14 4 q8 2 4 10 q6 8 -4 12 q-4 8 -12 4 q-10 6 -14 -2 q-8 -2 -8 -10 Z"/>
<path d="M690 1256 q8 -6 14 2 q8 -4 10 6 q-6 8 -14 4 q-8 2 -10 -12 Z"/>
<path d="M718 1272 q6 -12 20 -10 q8 4 2 12 q-10 6 -22 -2 Z"/><path d="M722 1274 L756 1263"/><path d="M728 1274 L738 1292"/>
</g>
<!-- side arm -->
<path class="o" d="M893 1030.7 L920.6 1011.9 Q935.1 1014.8 935.1 1027.8 L901.7 1053.9 Q893 1045.2 893 1030.7 Z" fill="#3d3e40"/>
<path class="o" d="M800.3 1077.1 L869.9 1035.1 L891.6 1042.3 L816.2 1085.8 Z" fill="#5b9bbd"/>
<path class="o" d="M816.2 1085.8 L891.6 1042.3 L898.8 1065.5 L817.1 1140.9 Z" fill="#4a86a5"/>
<path class="o" d="M872 1036 L884 1029 L900 1035 L906 1058 L898.8 1065.5 L891.6 1042.3 Z" fill="#5190b1" stroke-width="2"/>
<!-- head -->
<path class="o" d="M729.3 1181.4 L758.3 1194.5 L816.2 1165.5 L816.2 1172.8 L758.3 1201.7 L729.3 1188.7 Z" fill="#3c7492" stroke-width="2"/>
<path class="o" d="M727.8 1109 L758.3 1122 L758.3 1194.5 L729.3 1181.4 Z" fill="#4a86a5"/>
<path class="o" d="M758.3 1122 L814.8 1085.8 L816.2 1165.5 L758.3 1194.5 Z" fill="#5190b1"/>
<path class="o" d="M727.8 1109 L782.9 1074.2 L814.8 1085.8 L758.3 1122 Z" fill="#5b9bbd"/>
<path class="o" d="M773.6 1127 Q773.6 1124.1 777.1 1122.3 L801.7 1111.9 Q805.2 1111 805.5 1114.8 L806.1 1155.4 Q806.1 1158.3 803.2 1159.7 L777.1 1169.9 Q773.6 1170.7 773.3 1167 Z" fill="#2f3032" stroke-width="2"/>
<path d="M781 1128 L801 1119.5 L801.5 1152 L781.5 1160 Z" fill="#3d3e40" stroke="#1f2326" stroke-width="1"/>
<g stroke="#1f2326" stroke-width="0.9" fill="none"><path d="M786 1126 V1158"/><path d="M791 1124 V1156"/><path d="M796 1122 V1154"/><path d="M781 1136 L801.2 1127.5"/><path d="M781 1144 L801.3 1135.5"/><path d="M781.3 1152 L801.4 1143.5"/></g>
<!-- knob -->
<path class="o" d="M722 1126 L742 1124 Q752 1146 742 1170 L722 1172 Z" fill="#3a3b3d" stroke-width="2"/>
<ellipse cx="722.5" cy="1149" rx="15.5" ry="23" fill="#3d3e40" stroke="#1f2326" stroke-width="2.2"/>
<path d="M718 1140 Q722 1130 726 1140 L727 1165 M712 1158 L734 1150 M738 1140 L740 1160" fill="none" stroke="#1f2326" stroke-width="1.6"/>
<!-- rod + collar -->
<ellipse cx="755.4" cy="1098" rx="17.5" ry="7.5" fill="#4a86a5" stroke="#1f2326" stroke-width="2"/>
<path class="o" d="M738 1086 V1096 Q755 1104 773 1096 V1086 Z" fill="#4a86a5" stroke-width="2"/>
<ellipse cx="755.4" cy="1087" rx="17.5" ry="7" fill="#5b9bbd" stroke="#1f2326" stroke-width="2"/>
<path class="o" d="M743.8 1050 H767 V1087 Q755 1092 743.8 1087 Z" fill="#ededeb" stroke-width="2"/>
<!-- handle -->
<path class="o" d="M755.4 977.1 L855.4 917.7 Q856.8 926.4 852.5 935.1 L791.6 990.1 Q782.9 998.8 782.9 1010.4 L782.9 1050 Q772 1060 755.4 1062 Z" fill="#3f7c9b"/>
<path class="o" d="M713.9 972.8 Q713.9 964.1 722 958.8 L755.4 977.1 L755.4 1062 Q733.6 1063.2 715.7 1049.6 Z" fill="#4a86a5"/>
<path class="o" d="M722 958.8 L823.5 900.9 Q840.9 897.4 855.4 917.7 L755.4 977.1 Z" fill="#5190b1"/>
</g>

<!-- 60_jar.svg -->
<g id="powderjar">
<ellipse cx="1240" cy="1338" rx="67" ry="38" fill="#e2e2e2"/>
<!-- base -->
<path class="o" d="M1157.9 1322 V1342 A67 33 0 0 0 1291.8 1342 V1322 Z" fill="#4f8eaf"/>
<ellipse cx="1225" cy="1322" rx="66.5" ry="30" fill="#e6e6e4" stroke="#1f2326" stroke-width="2"/>
<!-- glass -->
<path d="M1157.9 1190 V1322 M1291.8 1190 V1322" stroke="#1f2326" stroke-width="2" fill="none"/>
<path d="M1159 1190 H1290.8 V1322 A66 29 0 0 0 1159 1322 Z" fill="#fdfdfd"/>
<!-- red cylinder -->
<path class="o" d="M1174.5 1263 V1325 A51.2 20.5 0 0 0 1276.9 1325 V1263 Z" fill="#ee6246" stroke-width="2.2"/>
<ellipse cx="1225.7" cy="1263" rx="51.2" ry="22.4" fill="#ef6a4e" stroke="#1f2326" stroke-width="2.2"/>
<!-- lid -->
<path class="o" d="M1157.9 1168.8 V1196 A67 24 0 0 0 1291.8 1196 V1168.8 Z" fill="#4f8eaf"/>
<ellipse cx="1225" cy="1168.8" rx="67" ry="33.5" fill="#5d9dbd" stroke="#1f2326" stroke-width="2.4"/>
<path d="M1232 1216 Q1262 1213 1280 1202" fill="none" stroke="#b9d9e7" stroke-width="2.2" stroke-linecap="round"/>
<!-- collar -->
<ellipse cx="1225" cy="1161" rx="26.5" ry="14" fill="#4a6475" stroke="#1f2326" stroke-width="2.2"/>
<ellipse cx="1225" cy="1157" rx="23" ry="11.5" fill="#5d9dbd" stroke="#1f2326" stroke-width="1.8"/>
<!-- tube -->
<path d="M1225 1158 L1225 1091.8 Q1225 1064.5 1246.6 1054.5 L1259 1047.6" fill="none" stroke="#1f2326" stroke-width="25" stroke-linecap="round"/>
<path d="M1225 1158 L1225 1091.8 Q1225 1064.5 1246.6 1054.5 L1259 1047.6" fill="none" stroke="#5b9bbd" stroke-width="20.5" stroke-linecap="round"/>
<path d="M1252.8 1050.8 L1280.6 1032" fill="none" stroke="#1f2326" stroke-width="33" stroke-linecap="round"/>
<path d="M1252.8 1050.8 L1280.6 1032" fill="none" stroke="#5b9bbd" stroke-width="28.5" stroke-linecap="round"/>
<path d="M1243 1043 Q1254 1046 1260 1062" fill="none" stroke="#1f2326" stroke-width="2"/>
<path d="M1247 1040 Q1258 1043 1264 1059" fill="none" stroke="#1f2326" stroke-width="1.6"/>
</g>

<!-- 70_curing.svg -->
<g id="curing">
<path d="M1558 1300 L1566 1312 L1771.4 1402 L1907 1312.4 L1896.3 1299.2 L1771.4 1390 Z" fill="#e3e3e3"/>
<!-- tray -->
<path class="o" d="M1567.6 1290.8 L1771.4 1376.5 L1771.4 1390 L1572 1305 Q1568 1302 1567.6 1297 Z" fill="#77787a"/>
<path class="o" d="M1771.4 1376.5 L1896.3 1296.1 L1896.3 1306 Q1896 1310 1892 1313 L1771.4 1390 Z" fill="#858688"/>
<path class="o" d="M1572.1 1287.4 L1703 1212.4 Q1706.4 1210.3 1710.4 1211.9 L1892.4 1292.6 Q1897.6 1296.1 1892.4 1299.7 L1776.7 1374.2 Q1771.4 1377.3 1766.1 1374.7 L1571.6 1293.4 Q1566.3 1290 1571.6 1287.4 Z" fill="#939496"/>
<path d="M1596.5 1284 L1703 1223.2 Q1706.2 1221.4 1709.6 1223 L1866.1 1291.8 Q1870 1294.5 1866.1 1297.6 L1772.7 1356.2 Q1768.8 1358.3 1764.8 1356.7 L1596.5 1288.7 Q1592.6 1286.1 1596.5 1284 Z" fill="#f6f6f5" stroke="#1f2326" stroke-width="1.6"/>
<path d="M1787.2 1374.7 L1863.4 1324.8" stroke="#2f3032" stroke-width="3" stroke-linecap="round"/>
<path d="M1800 1371.5 L1842 1344" stroke="#55565a" stroke-width="1.5" stroke-linecap="round"/>
<!-- art -->
<path d="M1652 1258 Q1632 1262 1627 1278 Q1630 1294 1652 1298 Q1676 1300 1684 1290 Q1690 1284 1682 1278 Q1690 1272 1702 1282 Q1704 1270 1712 1270 Q1726 1270 1722 1258 Q1714 1250 1700 1254 Q1686 1262 1674 1262 Q1664 1256 1652 1258 Z" fill="#4f93bb" stroke="#2d6a8e" stroke-width="1.4" stroke-linejoin="round"/>
<path d="M1650 1266 Q1640 1272 1644 1282 Q1652 1290 1664 1286 Q1668 1278 1662 1272 Q1670 1268 1680 1270 Q1666 1262 1650 1266 Z" fill="#e9f3f8" stroke="#7db6d3" stroke-width="1"/>
<path d="M1752 1282 Q1760 1276 1764 1286 Q1772 1276 1788 1278 Q1804 1276 1816 1282 Q1820 1288 1810 1290 Q1796 1288 1788 1296 Q1782 1304 1784 1314 Q1776 1320 1768 1314 Q1756 1312 1744 1316 Q1736 1324 1728 1318 Q1724 1310 1734 1308 Q1722 1304 1728 1296 Q1738 1290 1750 1296 Q1748 1288 1752 1282 Z" fill="#ee5a42" stroke="#c9412f" stroke-width="1.2" stroke-linejoin="round"/>
<path d="M1760 1294 q6 -2 8 4 q-4 6 -8 -4 Z" fill="#f6f6f5"/>
<circle cx="1790" cy="1313" r="1.8" fill="#ee5a42"/>
<!-- white paper under head -->
<path class="o" d="M1624.1 1238.7 L1634.7 1220.3 L1742.5 1211.1 L1755.6 1225.6 L1687.3 1267.7 Z" fill="#f2f2f1" stroke-width="1.6"/>
<!-- lower blocks -->
<path class="o" d="M1618.9 1204.5 L1685.9 1233.5 L1685.9 1242.7 L1618.9 1213.7 Z" fill="#3a3b3d" stroke-width="2"/>
<path class="o" d="M1685.9 1233.5 L1756.9 1196.7 L1756.9 1207.2 L1685.9 1242.7 Z" fill="#444547" stroke-width="2"/>
<path class="o" d="M1603.1 1175.6 L1685.9 1212.4 L1685.9 1233.5 L1604.4 1198 Z" fill="#424345"/>
<path class="o" d="M1685.9 1212.4 L1772.7 1162.5 L1772.7 1183.5 L1685.9 1233.5 Z" fill="#48494a"/>
<path class="o" d="M1603.1 1175.6 L1649.1 1154.6 L1772.7 1162.5 L1685.9 1212.4 Z" fill="#535455"/>
<!-- arm -->
<path class="o" d="M1695.1 1123 L1750.4 1088.8 L1751.7 1095.4 L1897.6 1011.3 L1898.9 1070.4 L1771.4 1162.5 L1697.8 1196.7 Z" fill="#48494a"/>
<path class="o" d="M1714.9 1069.1 L1855 993 Q1859.5 991 1864 993 L1894 1007.5 Q1898 1010.5 1894 1013 L1751.7 1094.6 L1750.4 1087.5 L1713.5 1071.8 Z" fill="#5a5b5c"/>
<path class="o" d="M1649.1 1100.7 L1695.1 1123 L1697.8 1196.7 L1650.4 1178.2 Z" fill="#3f4042"/>
<path class="o" d="M1649.1 1100.7 L1705.7 1067.8 L1750.4 1087.5 L1695.1 1123 Z" fill="#565758"/>
<path d="M1659.6 1117.8 L1683.3 1128.3 L1683.3 1183.5 L1661 1173 Z" fill="#2a2b2d" stroke="#1a1b1d" stroke-width="1.6" stroke-linejoin="round"/>
<path d="M1666.2 1122.5 L1680.7 1128.8 L1680.7 1157.2 L1666.2 1150.9 Z" fill="#efefef" stroke="#1a1b1d" stroke-width="1.2"/>
<path d="M1661.5 1163 L1682 1170.9 L1682 1177.7 L1661.5 1169.8 Z" fill="#d9b45a" stroke="#1a1b1d" stroke-width="1"/>
<path d="M1667 1168 L1677 1172" stroke="#3d3e40" stroke-width="2"/>
<g stroke="#1a1b1d" stroke-width="1.8" fill="none" stroke-linecap="round"><path d="M1851.6 1052 V1046.8 L1892.4 1023.1"/><path d="M1855.5 1090.2 L1897 1064.5"/><path d="M1753 1098 L1755 1124 L1850 1066"/></g>
</g>

<!-- 80_laptop.svg -->
<g id="laptop">
<!-- base -->
<path class="o" d="M16.8 1888.4 L321.4 1888.4 Q323.3 1896.8 314.9 1904.2 L24.2 1904.2 Q14.9 1896.8 16.8 1888.4 Z" fill="#454648"/>
<path class="o" d="M46.6 1833.4 L302.8 1833.4 L321.4 1888.4 L16.8 1888.4 Z" fill="#57585a"/>
<path class="t" d="M141.6 1834.3 L133.2 1859.5 M204 1834.3 L211.5 1859.5" stroke-width="1.8"/>
<rect x="122" y="1863.2" width="99.7" height="16.8" rx="3.5" fill="#38393b" stroke="#1f2326" stroke-width="2"/>
<path class="t" d="M124 1869.5 H220" stroke-width="1.4"/>
<path class="t" d="M132 1882 Q131 1888 134 1891 M134 1883 H218" stroke-width="1.4"/>
<rect x="246" y="1874.4" width="29.8" height="13.1" rx="1.5" fill="#47484a" stroke="#1f2326" stroke-width="1.8"/>
<path d="M257 1878.5 H264 Q268 1881 264 1883.5 H257" fill="none" stroke="#1f2326" stroke-width="1.8"/>
<ellipse cx="291.6" cy="1879.6" rx="6.4" ry="3.2" fill="#77787a" stroke="#1f2326" stroke-width="1.4"/>
<!-- screen -->
<rect x="45.7" y="1614.5" width="257.1" height="218.9" rx="12" fill="#565759" stroke="#1f2326" stroke-width="2.6"/>
<rect x="60.6" y="1630.3" width="228.2" height="188.2" rx="6" fill="#f1f1f0" stroke="#1f2326" stroke-width="2"/>
<!-- picture -->
<rect x="93.2" y="1658.6" width="168.6" height="127.3" fill="#5ba3c6"/>
<path d="M93.2 1708.6 L101.6 1703.9 L115.5 1714.2 L123.9 1717.9 L130.4 1729.1 L154.7 1742.1 L173.3 1738.4 L208.7 1719.8 L261.8 1747.7 L261.8 1785.9 L93.2 1785.9 Z" fill="#ec6448" stroke="#1f2326" stroke-width="1.4" stroke-linejoin="round"/>
<path d="M96.9 1777.5 L173.3 1744" stroke="#1f2326" stroke-width="1.4" fill="none"/>
<path d="M121.1 1721.6 Q119.3 1691.8 141.6 1686.2 Q167.7 1684.3 171.4 1710.4 L170.5 1727.2 Q167.7 1738.4 154.7 1742.1 Q130.4 1734.7 121.1 1721.6 Z" fill="#e8664a" stroke="#1f2326" stroke-width="1.5"/>
<path d="M128.6 1714.2 Q130.4 1701.1 145.3 1701.1 Q164 1703 169.6 1714.2 L170.5 1729.1 Q164 1738.4 152.8 1740.2 Q134.2 1729.1 128.6 1714.2 Z" fill="#f6f1ee" stroke="#1f2326" stroke-width="1.3"/>
<path d="M136 1702 Q150 1694 165 1704" stroke="#e8664a" stroke-width="4" fill="none"/>
<circle cx="142" cy="1721.5" r="4.2" fill="#f6f1ee" stroke="#1f2326" stroke-width="1.3"/><circle cx="142.5" cy="1722" r="1.8" fill="#8a5a4a"/>
<ellipse cx="162" cy="1720" rx="5" ry="4" fill="#efb0a2" stroke="#1f2326" stroke-width="1.2"/><circle cx="162" cy="1720.5" r="1.7" fill="#8a3a2a"/>
<path d="M154 1730 Q152 1738 156 1741" stroke="#1f2326" stroke-width="1.2" fill="none"/>
<path d="M101.6 1731.9 Q115.5 1753.3 130.4 1754.2 Q136 1749.6 135.1 1745.8 Q121.1 1745.8 109.9 1730.9 Z" fill="#f6f1ee" stroke="#1f2326" stroke-width="1.3" stroke-linejoin="round"/>
<g fill="none" stroke="#f6ece8" stroke-width="3.2" stroke-linecap="round" stroke-linejoin="round">
<path d="M174 1752 q-6 10 4 18 q6 4 10 -2 M186 1746 q-8 12 2 22 M196 1740 q2 14 -8 24 M206 1744 q-6 16 6 26 M216 1744 q4 14 -6 30 M228 1742 q6 14 2 26 q-4 8 -12 8"/>
</g>
<g fill="none" stroke="#c9412f" stroke-width="1.1" stroke-linecap="round">
<path d="M176 1754 q-4 8 4 14 M188 1750 q-4 8 0 16 M208 1748 q-2 12 6 20 M228 1746 q4 10 2 20"/>
</g>
<path d="M166.8 1665.7 L191.9 1686.2" stroke="#1f2326" stroke-width="3.6" stroke-linecap="round"/><path d="M167.5 1666.3 L191 1685.5" stroke="#a86b5e" stroke-width="1.8" stroke-linecap="round"/>
<path d="M193.8 1676 L232.9 1708.6 L246 1724.4" stroke="#1f2326" stroke-width="4" stroke-linecap="round" stroke-linejoin="round" fill="none"/><path d="M194.5 1676.6 L232 1707.8" stroke="#a86b5e" stroke-width="2" stroke-linecap="round"/>
<g fill="#e6f2f8"><circle cx="110" cy="1695" r="1.6"/><circle cx="116" cy="1690" r="1.3"/><circle cx="122" cy="1694" r="1.5"/><circle cx="131" cy="1682" r="1.2"/><circle cx="184" cy="1698" r="1.6"/><circle cx="190" cy="1693" r="1.4"/><circle cx="186" cy="1704" r="1.5"/><circle cx="228" cy="1690" r="1.6"/><circle cx="234" cy="1686" r="1.4"/><circle cx="240" cy="1692" r="1.5"/><circle cx="232" cy="1697" r="1.5"/><circle cx="238" cy="1699" r="1.3"/><circle cx="180" cy="1712" r="1.6"/></g>
<rect x="93.2" y="1658.6" width="168.6" height="127.3" fill="none" stroke="#1f2326" stroke-width="1.6"/>
</g>

<!-- 81_stamp.svg -->
<g id="stamp">
<!-- base -->
<path class="o" d="M359 1760.5 L359 1771.1 Q395 1792.2 432 1771.1 L432 1760.5 Z" fill="#3f7e9f" stroke-width="2"/>
<path class="o" d="M363.7 1735.9 L359 1758.7 Q395 1776 432 1758.7 L428.1 1735.9 Z" fill="#e8e8e7" stroke-width="2"/>
<ellipse cx="395.9" cy="1735.9" rx="32.5" ry="12.3" fill="#f0f0ef" stroke="#1f2326" stroke-width="2"/>
<path class="t" d="M366 1746 Q395 1760 426 1746" stroke-width="1.2"/>
<path d="M369 1758 l4 -8 l5 10 Z" fill="none" stroke="#1f2326" stroke-width="1.5"/>
<rect x="391" y="1756" width="6" height="5" fill="#3d3e40"/><rect x="399" y="1756.5" width="5" height="4.5" fill="none" stroke="#1f2326" stroke-width="1.2"/>
<ellipse cx="420" cy="1756" rx="3.6" ry="4.6" fill="none" stroke="#1f2326" stroke-width="1.5"/>
<!-- lower rod -->
<path class="o" d="M385 1680 L406.5 1684 L406.5 1732.3 Q396 1736 385 1732.3 Z" fill="#c9cacb" stroke-width="2"/>
<path d="M387.5 1684 V1732" stroke="#e6e6e6" stroke-width="3"/>
<path class="t" d="M395.9 1684.8 V1733.5" stroke-width="1.5"/>
<!-- joint -->
<ellipse cx="398" cy="1678" rx="15" ry="17" fill="#efefee" stroke="#1f2326" stroke-width="1.8"/>
<circle cx="396.5" cy="1674.3" r="9" fill="#a9aaab" stroke="#1f2326" stroke-width="1.6"/>
<!-- arm -->
<path class="o" d="M384.5 1616.2 L409.1 1612.7 L437.3 1605.6 L469 1649.6 Q477.8 1669 474.3 1686.6 Q469 1695.4 439.1 1705.1 Q426.7 1697.1 384.5 1654.9 Z" fill="#eaeae9" stroke-width="2.2"/>
<path class="o" d="M409.1 1612.7 L437.3 1605.6 L469 1649.6 Q477.8 1669 474.3 1686.6 Q469 1695.4 439.1 1705.1 L441 1676 Q439.1 1658.4 409.1 1612.7 Z" fill="#f2f2f1" stroke-width="2"/>
<path class="o" d="M410 1614.4 L436.4 1606.5 L467.2 1647 L440.8 1655.8 Z" fill="#47484a" stroke-width="2"/>
<ellipse cx="406.5" cy="1629.4" rx="4.4" ry="5.4" fill="#9fa0a2" stroke="#1f2326" stroke-width="1.8" transform="rotate(25 406.5 1629.4)"/>
<ellipse cx="386.2" cy="1647.5" rx="4.8" ry="5.6" fill="#9fa0a2" stroke="#1f2326" stroke-width="1.8" transform="rotate(25 386.2 1647.5)"/>
<path d="M435 1687 q-5 2 -3 7 q2 3 5 2" fill="none" stroke="#1f2326" stroke-width="1.4"/>
<!-- side rod + arrow -->
<path class="o" d="M346.6 1598 L354.6 1601 L354.6 1676 L346.6 1676 Z" fill="#b9babb" stroke-width="1.8"/>
<path d="M331.7 1673.4 L347.5 1676.9 L366 1668.1 L347.5 1691 Z" fill="#e8553d" stroke="#1f2326" stroke-width="1.8" stroke-linejoin="round"/>
<!-- cube -->
<path class="o" d="M337 1543.7 L395.9 1562.8 L395.9 1615.3 L337.8 1597.7 Z" fill="#4589ac"/>
<path class="o" d="M395.9 1562.8 L453.5 1544 L454 1595.9 L395.9 1615.3 Z" fill="#4a8db0"/>
<path class="o" d="M339.6 1541.4 L391.5 1525.5 Q395 1524.6 398.6 1525.5 L450.5 1542.2 Q454 1543.7 450.5 1545.4 L399.4 1561.6 Q395.9 1562.8 392.4 1561.6 L339.6 1544.9 Q336.1 1543.1 339.6 1541.4 Z" fill="#f3f3f2"/>
<path class="t" d="M347.5 1541.9 L395 1528.2 L442.6 1542.8 L395.9 1557.7 Z" stroke-width="1.3"/>
<ellipse cx="394.2" cy="1542.2" rx="15.5" ry="8" fill="#3d3e40" stroke="#1f2326" stroke-width="1.6"/>
</g>

<!-- 82_bottle.svg -->
<g id="bottle">
<ellipse cx="686" cy="1899" rx="74" ry="22" fill="#e3e3e3"/>
<ellipse cx="848" cy="1888" rx="62" ry="26" fill="#e3e3e3"/>
<!-- bottle body -->
<path class="o" d="M618.7 1678.7 Q619.8 1670 631.7 1665.7 Q651.3 1652.6 673 1659.1 L690.4 1661.3 Q712.2 1672.2 731.7 1680.9 Q739.3 1685.2 739.3 1693.9 L739.3 1889.6 Q738.3 1907 720.9 1909.1 L638.3 1908 Q619.8 1904.8 618.7 1889.6 Z" fill="#ee6246"/>
<path d="M619.8 1711.3 L738.2 1728.7 L738.2 1876.5 L619.8 1863.5 Z" fill="#b4d3e3"/>
<path d="M619.8 1807 Q647 1780.9 690.4 1786.3 Q725.2 1791.7 738.2 1809.1 L738.2 1876.5 L619.8 1863.5 Z" fill="#4f93b5"/>
<path d="M619.8 1700 L619.8 1711.3 Q647 1709.1 668.7 1722.2 Q701.3 1739.6 738.2 1728.7 L738.2 1700 Z" fill="#ee6246"/>
<path d="M619.8 1863.5 Q668.7 1887.4 738.2 1876.5 L738.2 1889.6 Q737.3 1906 720.9 1908 L638.3 1907 Q620.8 1904 619.8 1889.6 Z" fill="#ee6246"/>
<path class="t" d="M619.1 1711.3 Q647 1709.1 668.7 1722.2 Q701.3 1739.6 739.3 1728.7" stroke-width="1.5"/>
<path class="t" d="M619.8 1673.3 Q647 1667.8 673 1680.9 Q701.3 1698.3 725.2 1693.9 Q736.1 1691.7 736.1 1685.2" stroke-width="1.8"/>
<path class="t" d="M631.7 1716.7 V1867.8 M697 1734.1 V1883 M726.3 1696.1 V1908" stroke-width="1.5"/>
<path d="M676.7 1759.1 L687.2 1759.1 L686.1 1864.6 L676.7 1864.6 Z" fill="#f4fafc"/>
<path class="o" d="M618.7 1678.7 Q619.8 1670 631.7 1665.7 Q651.3 1652.6 673 1659.1 L690.4 1661.3 Q712.2 1672.2 731.7 1680.9 Q739.3 1685.2 739.3 1693.9 L739.3 1889.6 Q738.3 1907 720.9 1909.1 L638.3 1908 Q619.8 1904.8 618.7 1889.6 Z" fill="none"/>
<!-- neck -->
<path class="o" d="M661.1 1645 L691.5 1645 L690.4 1665.7 Q677.4 1670 663.3 1663.5 Z" fill="#f0f0ef" stroke-width="2"/>
<path class="t" d="M662 1655 Q676 1660 691 1655" stroke-width="1.3"/>
<!-- trigger -->
<path class="o" d="M586.1 1564.6 Q590.4 1552.6 604.6 1548.3 Q616.5 1552.6 625.2 1552.6 Q651.3 1550.4 673 1570 Q681.7 1578.7 690.4 1577.6 Q733.9 1583 768.7 1589.6 Q786.1 1593.9 793.7 1615.7 Q805.7 1624.3 802.4 1633 Q790.4 1648.3 775.2 1659.1 Q755.7 1663.5 744.8 1650.4 Q740.4 1637.4 725.2 1626.5 Q710 1622.2 699.1 1633 Q694.8 1643.9 690.4 1650.4 L661.1 1650.4 Q653.5 1641.7 653.5 1628.7 Q647 1613.5 631.7 1611.3 Q603.5 1607 594.8 1589.6 Q588.3 1576.5 586.1 1564.6 Z" fill="#b5b6b7"/>
<path d="M599.1 1564.6 Q610 1557 625.2 1557 Q651.3 1557 673 1585.2 Q681.7 1578.7 690.4 1577.6 Q681.7 1578.7 673 1570 Q651.3 1550.4 625.2 1552.6 Q616.5 1552.6 604.6 1548.3 Q590.4 1552.6 588 1562 Z" fill="#c9cacb"/>
<path d="M749.1 1602.6 Q760 1593.9 768.7 1589.6 Q786.1 1593.9 793.7 1615.7 Q805.7 1624.3 802.4 1633 Q777.4 1639.6 764.3 1624.3 Q751.3 1611.3 749.1 1602.6 Z" fill="#c9cacb"/>
<path class="t" d="M599.1 1564.6 Q610 1557 625.2 1557 Q651.3 1557 673 1585.2 Q681.7 1578.7 690.4 1577.6 M749.1 1602.6 Q760 1593.9 768.7 1589.6 M749.1 1602.6 Q751.3 1611.3 764.3 1624.3 Q777.4 1639.6 802.4 1633" stroke-width="1.8"/>
<!-- jar -->
<path class="o" d="M775.2 1774.3 V1889.6 A59.8 23 0 0 0 894.8 1889.6 V1774.3 Z" fill="#e6e6e5"/>
<path d="M776.3 1842 A58.8 22 0 0 0 893.7 1842 V1864 A58.8 22 0 0 1 776.3 1864 Z" fill="#4a8db0"/>
<path d="M776.3 1795 A58.8 22 0 0 0 893.7 1795 V1818 A58.8 22 0 0 1 776.3 1818 Z" fill="#b5b6b7" stroke="#1f2326" stroke-width="1.6"/>
<path class="t" d="M798 1813 V1832 M817 1817 V1838 M838 1818 V1839 M858 1816 V1837 M874 1811 V1831 M886 1803 V1822" stroke-width="1.3"/>
<ellipse cx="835" cy="1774.3" rx="59.8" ry="29" fill="#dcdcdb" stroke="#1f2326" stroke-width="2.4"/>
<ellipse cx="794" cy="1762" rx="17" ry="9" fill="#bfc0c1" transform="rotate(-28 794 1762)"/>
<path class="o" d="M775.2 1774.3 V1889.6 A59.8 23 0 0 0 894.8 1889.6 V1774.3" fill="none"/>
</g>

<!-- 83_bluepress.svg -->
<g id="bluepress">
<path d="M1090 1834.8 L1235.4 1909 L1346 1837.1 L1337.8 1827.9 L1234.2 1897.4 L1104.4 1834.8 Z" fill="#e3e3e3"/>
<!-- feet -->
<ellipse cx="1120.4" cy="1846" rx="5" ry="4.5" fill="#3d3e40" stroke="#1f2326" stroke-width="1.4"/><ellipse cx="1246.7" cy="1896" rx="5" ry="4.5" fill="#3d3e40" stroke="#1f2326" stroke-width="1.4"/><ellipse cx="1319.6" cy="1843" rx="5" ry="4.5" fill="#3d3e40" stroke="#1f2326" stroke-width="1.4"/>
<!-- lower plate -->
<path class="o" d="M1104.4 1818.8 L1234.2 1879.2 L1234.2 1897.4 L1108 1837 Q1104.6 1835 1104.4 1831 Z" fill="#4a88a9"/>
<path class="o" d="M1234.2 1879.2 L1337.8 1818.8 L1337.8 1830 Q1337.6 1833.6 1334 1836 L1234.2 1897.4 Z" fill="#3c7492"/>
<path class="o" d="M1109 1815.4 L1205.8 1768.7 L1333.3 1816.6 Q1339 1819.3 1333.3 1822.3 L1238.8 1876.9 Q1234.2 1879.6 1229.7 1876.9 L1109 1821.1 Q1103.3 1818.2 1109 1815.4 Z" fill="#3f7a99"/>
<!-- splat -->
<path d="M1294.6 1802.9 Q1292.3 1793.8 1278.6 1796.1 Q1265 1793.8 1255.9 1798.3 Q1246.7 1805.2 1249 1812 Q1237.6 1802.9 1219.4 1802.9 Q1214.9 1807.4 1224 1812 Q1219.4 1818.8 1205.8 1816.6 Q1194.4 1818.8 1196.6 1825.7 Q1189.8 1830.2 1196.6 1834.8 Q1205.8 1837.1 1210.3 1832.5 Q1208 1841.6 1214.9 1848.4 Q1226.2 1853 1226.2 1841.6 Q1219.4 1837.1 1219.4 1830.2 Q1233.1 1818.8 1251.3 1823.4 Q1262.7 1814.3 1265 1807.4 Q1278.6 1812 1294.6 1802.9 Z" fill="#ee6246" stroke="#b73a2a" stroke-width="1.3" stroke-linejoin="round" transform="translate(1245 1820) scale(0.86) translate(-1245 -1820)"/>
<!-- cables -->
<path d="M1145.4 1771 L1143.1 1793.8" stroke="#3d3e40" stroke-width="3" fill="none"/>
<g fill="none" stroke-linecap="round"><path d="M1113.5 1749.4 Q1105.5 1784.7 1128.3 1798.3" stroke="#1f2326" stroke-width="5"/><path d="M1113.5 1749.4 Q1105.5 1784.7 1128.3 1798.3" stroke="#e8664a" stroke-width="2.8"/>
<path d="M1116.9 1750.5 Q1135.2 1768.7 1167 1782.4 Q1169.3 1802.9 1187.5 1821.1" stroke="#1f2326" stroke-width="5"/><path d="M1116.9 1750.5 Q1135.2 1768.7 1167 1782.4 Q1169.3 1802.9 1187.5 1821.1" stroke="#e8664a" stroke-width="2.8"/></g>
<!-- white layer -->
<path class="o" d="M1099.9 1731.2 L1224 1788.1 L1224 1798.3 L1101 1743.7 Z" fill="#f1f1f0" stroke-width="2"/>
<path class="o" d="M1224 1788.1 L1319.6 1734.6 L1318.5 1744.8 L1224 1798.3 Z" fill="#e1e1e0" stroke-width="2"/>
<!-- upper plate -->
<path class="o" d="M1085.1 1710.7 L1224 1771 L1224 1787 L1089 1727.5 Q1085.3 1725.5 1085.1 1722 Z" fill="#4a88a9"/>
<path class="o" d="M1224 1771 L1327.6 1711.8 L1327.6 1722 Q1327.4 1725.5 1324 1727.8 L1224 1787 Z" fill="#3f7c9b"/>
<path class="o" d="M1089.6 1707.2 L1157.9 1670.8 L1323 1708.4 Q1328.7 1711.1 1323 1714.1 L1228.5 1768 Q1224 1770.6 1219.4 1768.3 L1089.6 1712.9 Q1083.9 1710 1089.6 1707.2 Z" fill="#5f9fc0"/>
<g fill="#4a88a9" stroke="#1f2326" stroke-width="1.5"><ellipse cx="1104.4" cy="1706.1" rx="5.5" ry="3"/><ellipse cx="1311.7" cy="1710.7" rx="5.5" ry="3"/><ellipse cx="1223.5" cy="1760.3" rx="5.5" ry="3"/></g>
<!-- cylinder -->
<path class="o" d="M1097.6 1545.5 Q1097.6 1531.9 1111.2 1526.2 L1135.2 1518.7 Q1142 1517.8 1148.8 1521.6 L1219.4 1554.7 L1157.9 1591.1 L1109 1567.2 Q1097.6 1559.2 1097.6 1545.5 Z" fill="#3d3e40"/>
<path class="t" d="M1109 1536.4 L1187.5 1575.2" stroke-width="1.5"/>
<!-- motor housing -->
<path class="o" d="M1214.9 1627.5 L1285.5 1591.1 L1284.3 1627.5 L1274.1 1636.6 L1272.9 1679.9 L1217.1 1719.8 Z" fill="#4589ac"/>
<path class="o" d="M1143.1 1618.4 Q1143.1 1593.4 1167 1591.1 Q1205.8 1595.7 1214.9 1627.5 L1217.1 1719.8 L1205.8 1722 L1151.1 1693.6 L1146.5 1679.9 Z" fill="#4a8db0"/>
<path class="o" d="M1167 1591.1 L1233.1 1549 Q1249 1543.3 1260.4 1549 Q1283.2 1563.8 1285.5 1591.1 L1214.9 1627.5 Q1205.8 1595.7 1167 1591.1 Z" fill="#5b9bbd"/>
<g stroke="#1f2326" stroke-width="2.6" fill="none"><path d="M1159 1621 V1643"/><path d="M1164.5 1622.5 V1646"/><path d="M1170 1624 V1649"/><path d="M1175.5 1626 V1652"/><path d="M1181 1628 V1655"/><path d="M1186.5 1630 V1655"/><path d="M1192 1633 V1656"/></g>
<g stroke="#2d6a8e" stroke-width="1.6" fill="none"><path d="M1161.7 1622 V1644"/><path d="M1167.2 1623.5 V1647"/><path d="M1172.7 1625 V1650"/><path d="M1178.2 1627 V1653"/><path d="M1183.7 1629 V1655"/><path d="M1189.2 1631.5 V1655"/></g>
<!-- knob -->
<path class="o" d="M1262 1655 L1274 1650 Q1288 1655 1286 1668 Q1284 1678 1272 1683 L1262 1680 Z" fill="#38393b" stroke-width="2"/>
<ellipse cx="1264.5" cy="1668" rx="9.5" ry="13.5" fill="#47484a" stroke="#1f2326" stroke-width="2"/>
<!-- lever -->
<ellipse cx="1170" cy="1683" rx="9" ry="11" fill="#4589ac" stroke="#1f2326" stroke-width="1.8"/>
<path class="o" d="M1148 1688 Q1156 1682 1166 1684 Q1174 1690 1168 1697 Q1156 1702 1148 1697 Q1144 1692 1148 1688 Z" fill="#47484a" stroke-width="1.8"/>
<path d="M1158 1686 L1160 1698" stroke="#c9cacb" stroke-width="1.6"/>
<!-- small arrows -->
<path d="M1301.5 1871 L1315 1874 L1311 1878 L1333 1903 L1327 1909 L1305.5 1883.5 L1301 1888 Z" fill="#ee6246" stroke="#8b2a1c" stroke-width="1.3" stroke-linejoin="round"/>
<path d="M1322 1858.5 L1336 1862 L1332 1866 L1349 1886 L1344 1891 L1327.5 1871 L1323 1875.5 Z" fill="#fdfdfd" stroke="#1f2326" stroke-width="1.5" stroke-linejoin="round"/>
<path d="M1288 1897 L1300 1908 L1305 1916 L1298 1919 L1290 1909 Z" fill="#e6e6e6" stroke="#1f2326" stroke-width="1.4" stroke-linejoin="round"/>
</g>

<!-- 84_blackmachine.svg -->
<g id="blackmachine">
<path d="M1524 1859.3 L1671.4 1936 L1825 1840.6 L1816.8 1833.2 L1671.4 1926.3 Z" fill="#e3e3e3"/>
<!-- base -->
<path class="o" d="M1528 1845.3 L1671.4 1917 L1671.4 1926.3 L1532.6 1857 Q1528.3 1854.6 1528 1849.9 Z" fill="#38393b"/>
<path class="o" d="M1671.4 1917 L1816.8 1832.2 L1816.8 1836.9 Q1816.4 1840.6 1813 1842.9 L1671.4 1926.3 Z" fill="#333436"/>
<path class="o" d="M1531.7 1842.1 L1593.2 1801.5 L1732.9 1784.7 L1813 1829.1 Q1817.7 1831.7 1813 1834.7 L1676.1 1914.8 Q1671.4 1917.4 1666.8 1915.2 L1531.7 1847.1 Q1527 1844.3 1531.7 1842.1 Z" fill="#47484a"/>
<path d="M1623.9 1849.9 L1706.8 1805.2 Q1710.6 1803.4 1714.3 1805.2 L1765.5 1827.6 Q1769.3 1829.4 1765.5 1831.7 L1680.7 1885.7 Q1677 1887.6 1673.3 1885.7 L1623.9 1856.5 Q1619.3 1853.3 1623.9 1849.9 Z" fill="#2f3032" stroke="#1f2326" stroke-width="1.6"/>
<path d="M1627.6 1852.7 L1707.8 1808.6 Q1710.6 1807.1 1713.4 1808.4 L1760.9 1829.8 Q1763.7 1831.3 1760.9 1833.2 L1678.9 1882.5 Q1676.1 1884 1673.3 1882.5 L1627.6 1857.8 Q1623.9 1855.2 1627.6 1852.7 Z" fill="#ececeb" stroke="#1f2326" stroke-width="1.3"/>
<path d="M1646.3 1847.1 L1684.5 1827 L1691.9 1831.3 L1663 1847.7 L1668.6 1860.7 L1661.2 1862 L1649.1 1853.7 Z" fill="#4a93bb" stroke="#2d6a8e" stroke-width="1.3" stroke-linejoin="round"/>
<path d="M1691.9 1843.4 L1719.9 1835 L1718 1829.4 L1729.2 1833.2 L1724.5 1844.3 L1721.7 1838.8 L1693.8 1847.1 Z" fill="#ee6246" stroke="#b73a2a" stroke-width="1.2" stroke-linejoin="round"/>
<path d="M1660.2 1868.6 Q1667.7 1870.4 1675.2 1863.9 Q1671.4 1861.1 1667.7 1861.1" fill="none" stroke="#ee6246" stroke-width="3" stroke-linecap="round"/>
<path d="M1668.6 1877 L1747.8 1835.4" stroke="#1f2326" stroke-width="1.2"/>
<!-- wall -->
<path d="M1646 1752 L1690 1725 L1690 1745 L1646 1762 Z" fill="#424345"/>
<path class="o" d="M1640.7 1759 L1649.5 1754.1 L1733.1 1709.8 L1783.3 1736.4 L1784.3 1752.1 L1641.6 1825.9 Z" fill="#424345"/>
<path class="o" d="M1649.5 1754.1 L1733.1 1709.8 L1783.3 1736.4 L1700.7 1780.7 Z" fill="#4b4c4e" stroke-width="2"/>
<!-- small block + ring -->
<path class="o" d="M1594.1 1800.6 L1640.7 1822 L1640.7 1833.2 L1595 1811.7 Z" fill="#7d7e80" stroke-width="2"/>
<path class="o" d="M1640.7 1822 L1658.4 1812.7 L1658.4 1823.9 L1640.7 1833.2 Z" fill="#55565a" stroke-width="2"/>
<path class="o" d="M1594.1 1800.6 L1611.8 1791.2 L1658.4 1812.7 L1640.7 1822 Z" fill="#5d5e60" stroke-width="2"/>
<ellipse cx="1630.4" cy="1800" rx="18.5" ry="9" fill="#38393b" stroke="#1f2326" stroke-width="2"/>
<ellipse cx="1630.4" cy="1796" rx="15" ry="7.5" fill="#444547" stroke="#1f2326" stroke-width="1.8"/>
<ellipse cx="1630.4" cy="1792.5" rx="11.5" ry="6" fill="#38393b" stroke="#1f2326" stroke-width="1.8"/>
<!-- knob ring -->
<circle cx="1616.5" cy="1771" r="7.5" fill="#9fa0a2" stroke="#1f2326" stroke-width="2.6"/>
<!-- rod -->
<path class="o" d="M1621.1 1748 L1638.8 1748 L1638.8 1789.4 Q1630.4 1793.1 1621.1 1789.4 Z" fill="#e6e6e5" stroke-width="2"/>
<!-- column -->
<path class="o" d="M1683 1734.4 L1700.7 1743.3 L1700.7 1771.8 L1683.9 1763.9 Z" fill="#444547" stroke-width="2"/>
<path class="o" d="M1700.7 1743.3 L1729.2 1728.5 L1729.2 1756.1 L1700.7 1771.8 Z" fill="#38393b" stroke-width="2"/>
<!-- nozzle -->
<path class="o" d="M1609.2 1735.4 L1644.6 1751.1 L1644.6 1759 L1610.2 1746.2 Z" fill="#38393b" stroke-width="2"/>
<path class="o" d="M1644.6 1751.1 L1651.5 1748.2 L1651.5 1755.1 L1644.6 1759 Z" fill="#2f3032" stroke-width="2"/>
<!-- head -->
<path class="o" d="M1649.5 1666.6 L1794.1 1579 L1796.1 1645.9 Q1796.1 1655.7 1789.2 1660.7 L1652.5 1752.1 Z" fill="#48494b"/>
<path class="o" d="M1577.7 1643 Q1577.7 1636.1 1583.6 1635.1 L1649.5 1666.6 L1652.5 1752.1 L1586.6 1725.6 Q1581.6 1723.6 1581 1717.7 Z" fill="#404143"/>
<path class="o" d="M1583.6 1635.1 L1592.5 1620.3 Q1595.4 1616.4 1600.3 1614.4 L1732.1 1555 Q1738 1553 1743.9 1555 L1789.2 1574.1 Q1794.1 1576.7 1794.1 1579 L1649.5 1666.6 Z" fill="#515254"/>
<path class="t" d="M1592.5 1627.2 L1651.5 1655.7 L1783.3 1577" stroke-width="1.5"/>
<path class="o" d="M1641.6 1622.3 L1708.5 1579 L1733.1 1589.8 L1665.2 1633.1 Z" fill="#2f3032" stroke-width="1.8"/>
<path d="M1648.5 1623.3 L1707.5 1585.9 L1726.2 1594.4 L1666.2 1629.8 Z" fill="#7b7c7e"/>
<path d="M1725.2 1571.5 Q1732.1 1562.3 1741 1560.3 L1757.7 1566.2 Q1763.6 1569.2 1760.7 1575.1 Q1755.7 1581 1748.9 1583 Z" fill="#e8553d" stroke="#1f2326" stroke-width="1.6"/>
<circle cx="1747" cy="1568" r="1.1" fill="#1f2326"/>
<ellipse cx="1612.1" cy="1689.2" rx="19.5" ry="24.5" fill="#f4f4f3" stroke="#1f2326" stroke-width="2" transform="rotate(-14 1612 1689)"/>
<ellipse cx="1611.1" cy="1690.2" rx="14.8" ry="19.8" fill="#ef5b42" stroke="#1f2326" stroke-width="1.6" transform="rotate(-14 1611 1690)"/>
</g>

<!-- 90_smallarrows.svg -->
<g id="smallstuff">
<!-- dashed arrowheads -->
<path d="M364.3 1092.8 L383 1066.9 L398.5 1104.2 Q381 1094 364.3 1092.8 Z" fill="#e8553d"/>
<path d="M285.7 1134.2 Q340 1125 374.7 1100" fill="none" stroke="#e8553d" stroke-width="3.2" stroke-linecap="round"/>
<path d="M1604.4 1088.8 L1626.8 1066.5 L1634.7 1098 Q1620 1089 1604.4 1088.8 Z" fill="#e8553d"/>
<g fill="none" stroke="#e0523c" stroke-width="2.8" stroke-linecap="round" stroke-linejoin="round">
<!-- Sbj Dens arrow -->
<path d="M391.3 1320.5 Q388 1296 360 1301 L346 1304"/><path d="M358 1297 L344.7 1304 L357 1310"/>
<!-- and dioeee arrow -->
<path d="M1827.9 1220.3 Q1824 1238.7 1801 1242.5"/><path d="M1808 1228.5 L1799 1243 L1814 1247"/>
<!-- stamp arrows -->
<path d="M399.4 1815.1 Q388.9 1802.8 391.2 1790.4"/><path d="M386.6 1797.5 L390.6 1788.7 L397.2 1797.1"/>
<path d="M562.3 1567.8 Q546.4 1569.5 536.7 1579.2 Q537.6 1586.2 553.5 1577.4 Q535.9 1605.6 541.1 1623.2 Q553.5 1644.3 571.1 1639.1 Q581.6 1651.4 592.2 1640.8 Q595.7 1635.5 593.9 1628.5"/>
<!-- bottle arrow -->
<path d="M781.7 1664.6 Q777.4 1704.8 791.5 1737.4" stroke-width="3.4"/><path d="M775.2 1722.2 L792.2 1737.4 L797 1716.7" stroke-width="3.4"/>
<!-- black machine arrows -->
<path d="M1806.9 1670.5 Q1805.9 1642 1838 1634.5" stroke-width="3.2"/><path d="M1830.5 1630.5 L1845.2 1637 L1838 1645" stroke-width="3.2"/>
<path d="M1790.2 1728.5 Q1824.6 1734.4 1854.1 1752.1" stroke-width="3.2"/><path d="M1852.1 1738.4 L1856.5 1752.5 L1842.3 1753.1" stroke-width="3.2"/>
</g>
</g>

<!-- 91_icons.svg -->
<g id="icons">
<path class="o" d="M494.7 509.3 L504.6 505.6 L504.6 536.6 L494.7 545.3 Z" fill="#2f3032" stroke-width="2"/>
<path class="o" d="M457.4 493.8 L465.5 488.2 L504.6 505.6 L494.7 509.3 Z" fill="#47484a" stroke-width="2"/>
<path class="o" d="M457.4 493.8 L494.7 509.3 L494.7 545.3 L458.6 528 Q456.1 526.7 456.1 524.2 L456.1 496.3 Q456.1 493.8 457.4 493.8 Z" fill="#3d3e40" stroke-width="2"/>
<path d="M466.7 508.1 L472.3 507.5 L483.5 517.4 L481 526.7 L477.3 527.3 L466.7 525.5 Z" fill="#f4f4f3" stroke="#1f2326" stroke-width="1.4" stroke-linejoin="round"/>
<path d="M512.7 511.2 L550.6 493.2" stroke="#e8553d" stroke-width="5.2" stroke-linecap="round"/>
<path d="M555.5 479.5 L566.7 473.5 Q569.2 472.7 571.7 474.5 L581.6 483.2 Q583.5 485.7 581 488.2 L564.2 500.6 Z" fill="#e8553d" stroke="#1f2326" stroke-width="1.8" stroke-linejoin="round"/>
<ellipse cx="555.5" cy="491" rx="7.5" ry="12" fill="#b9babb" stroke="#1f2326" stroke-width="1.8" transform="rotate(-25 555.5 491)"/>
<ellipse cx="553" cy="492" rx="3" ry="5" fill="#e8664a" transform="rotate(-25 553 492)"/>
</g>

<!-- 95_text.svg -->
<g id="labels" style="opacity:.996">
<text x="455.5" y="442.9" font-size="28" font-weight="bold" fill="#1c1d1f" textLength="96.9" lengthAdjust="spacingAndGlyphs">Creatte</text>
<text x="456.0" y="474.5" font-size="23.6" stroke="#1c1d1f" stroke-width="0.35" fill="#1c1d1f" textLength="59.0" lengthAdjust="spacingAndGlyphs">stoes</text>
<text x="511.4" y="555.9" font-size="24.1" stroke="#1c1d1f" stroke-width="0.35" fill="#1c1d1f" textLength="130.5" lengthAdjust="spacingAndGlyphs">DTTvdesing</text>
<text x="456.0" y="586.3" font-size="23.6" stroke="#1c1d1f" stroke-width="0.35" fill="#1c1d1f" textLength="112.6" lengthAdjust="spacingAndGlyphs">creeɛttite</text>
<text x="1199.6" y="418.9" font-size="31.5" stroke="#d4503f" stroke-width="0.9" fill="#d4503f" textLength="477.9" lengthAdjust="spacingAndGlyphs">It sw orerle y arunfred Image</text>
<text x="1199.6" y="452.4" font-size="31.5" stroke="#d4503f" stroke-width="0.9" fill="#d4503f" textLength="213.8" lengthAdjust="spacingAndGlyphs">diste/rugliete</text>
<text x="68.8" y="1078.8" font-size="28" font-weight="bold" fill="#1c1d1f" textLength="234.5" lengthAdjust="spacingAndGlyphs">Cheiliin graphing</text>
<text x="41.6" y="1111.4" font-size="24.6" stroke="#1c1d1f" stroke-width="0.35" fill="#1c1d1f" textLength="208.9" lengthAdjust="spacingAndGlyphs">gragpinicsfchorr</text>
<text x="402.8" y="1320.0" font-size="26" font-weight="bold" fill="#1c1d1f" textLength="119.2" lengthAdjust="spacingAndGlyphs">Sbj Dens</text>
<text x="402.8" y="1349.0" font-size="23.6" stroke="#1c1d1f" stroke-width="0.35" fill="#1c1d1f" textLength="121.9" lengthAdjust="spacingAndGlyphs">Theabytex</text>
<text x="402.8" y="1375.6" font-size="23.6" stroke="#1c1d1f" stroke-width="0.35" fill="#1c1d1f" textLength="120.9" lengthAdjust="spacingAndGlyphs">grapcatied</text>
<text x="402.8" y="1404.7" font-size="23.6" stroke="#1c1d1f" stroke-width="0.35" fill="#1c1d1f" textLength="119.2" lengthAdjust="spacingAndGlyphs">hanmossen</text>
<text x="402.8" y="1431.2" font-size="23.6" stroke="#1c1d1f" stroke-width="0.35" fill="#1c1d1f" textLength="55.7" lengthAdjust="spacingAndGlyphs">deee.</text>
<text x="108.7" y="1451.4" font-size="28" font-weight="bold" fill="#1c1d1f" textLength="240.1" lengthAdjust="spacingAndGlyphs">Olnig rooen Tors</text>
<text x="861.3" y="1357.0" font-size="24.6" stroke="#1c1d1f" stroke-width="0.35" fill="#1c1d1f" textLength="137.7" lengthAdjust="spacingAndGlyphs">Trrondrand</text>
<text x="864.0" y="1388.8" font-size="24.6" stroke="#1c1d1f" stroke-width="0.35" fill="#1c1d1f" textLength="147.3" lengthAdjust="spacingAndGlyphs">trow priotes</text>
<text x="641.3" y="1451.4" font-size="28" font-weight="bold" fill="#1c1d1f" textLength="285.2" lengthAdjust="spacingAndGlyphs">Transo Chapice SPIll</text>
<text x="1298.6" y="1075.0" font-size="28" font-weight="bold" fill="#1c1d1f" textLength="197.1" lengthAdjust="spacingAndGlyphs">Al S fecit thon</text>
<text x="1298.6" y="1105.3" font-size="23.6" stroke="#1c1d1f" stroke-width="0.35" fill="#1c1d1f" textLength="207.7" lengthAdjust="spacingAndGlyphs">itoan sc cuipe ruly</text>
<text x="1318.2" y="1189.0" font-size="24.6" stroke="#1c1d1f" stroke-width="0.35" fill="#1c1d1f" textLength="161.6" lengthAdjust="spacingAndGlyphs">_DPTE Powder</text>
<text x="1317.0" y="1219.2" font-size="24.6" stroke="#1c1d1f" stroke-width="0.35" fill="#1c1d1f" textLength="123.0" lengthAdjust="spacingAndGlyphs">fonur atth</text>
<text x="1829.6" y="1158.3" font-size="23.6" stroke="#1c1d1f" stroke-width="0.35" fill="#1c1d1f" textLength="169.7" lengthAdjust="spacingAndGlyphs">Pritrees te kouis</text>
<text x="1827.0" y="1187.4" font-size="23.6" stroke="#1c1d1f" stroke-width="0.35" fill="#1c1d1f" textLength="161.7" lengthAdjust="spacingAndGlyphs">notunadyxthe</text>
<text x="1828.6" y="1213.9" font-size="23.6" stroke="#1c1d1f" stroke-width="0.35" fill="#1c1d1f" textLength="117.6" lengthAdjust="spacingAndGlyphs">and dioeee</text>
<text x="1127.4" y="1436.5" font-size="28" font-weight="bold" fill="#1c1d1f" textLength="130.9" lengthAdjust="spacingAndGlyphs">UNIK DAF</text>
<text x="1132.7" y="1467.3" font-size="27" font-weight="bold" fill="#1c1d1f" textLength="128.8" lengthAdjust="spacingAndGlyphs">atlemsce?</text>
<text x="1773.0" y="1435.5" font-size="28" font-weight="bold" fill="#1c1d1f" textLength="124.5" lengthAdjust="spacingAndGlyphs">Blsed the</text>
<text x="1760.7" y="1465.7" font-size="27" font-weight="bold" fill="#1c1d1f" textLength="159.0" lengthAdjust="spacingAndGlyphs">lnaunte mites</text>
<text x="83.7" y="1936.9" font-size="29" font-weight="bold" fill="#1c1d1f" textLength="187.7" lengthAdjust="spacingAndGlyphs">Meabrosing</text>
<text x="142.0" y="1970.3" font-size="29" font-weight="bold" fill="#1c1d1f" textLength="76.4" lengthAdjust="spacingAndGlyphs">guiiit</text>
<text x="355.0" y="1845.7" font-size="23.6" stroke="#1c1d1f" stroke-width="0.35" fill="#1c1d1f" textLength="189.9" lengthAdjust="spacingAndGlyphs">Troussble bd the</text>
<text x="355.0" y="1874.9" font-size="23.6" stroke="#1c1d1f" stroke-width="0.35" fill="#1c1d1f" textLength="145.9" lengthAdjust="spacingAndGlyphs">trer wimgo tie</text>
<text x="355.0" y="1901.4" font-size="23.6" stroke="#1c1d1f" stroke-width="0.35" fill="#1c1d1f" textLength="158.0" lengthAdjust="spacingAndGlyphs">and blo tildand</text>
<text x="355.0" y="1927.9" font-size="23.6" stroke="#1c1d1f" stroke-width="0.35" fill="#1c1d1f" textLength="101.9" lengthAdjust="spacingAndGlyphs">simoning.</text>
<text x="834.8" y="1564.8" font-size="23.6" stroke="#1c1d1f" stroke-width="0.35" fill="#1c1d1f" textLength="125.6" lengthAdjust="spacingAndGlyphs">Hond Yrew</text>
<text x="833.2" y="1592.9" font-size="23.6" stroke="#1c1d1f" stroke-width="0.35" fill="#1c1d1f" textLength="151.6" lengthAdjust="spacingAndGlyphs">sromdestfieit</text>
<text x="833.2" y="1620.5" font-size="23.6" stroke="#1c1d1f" stroke-width="0.35" fill="#1c1d1f" textLength="134.1" lengthAdjust="spacingAndGlyphs">pricanne alit</text>
<text x="833.2" y="1647.0" font-size="23.6" stroke="#1c1d1f" stroke-width="0.35" fill="#1c1d1f" textLength="147.3" lengthAdjust="spacingAndGlyphs">then tduit and</text>
<text x="833.2" y="1675.0" font-size="23.6" stroke="#1c1d1f" stroke-width="0.35" fill="#1c1d1f" textLength="97.0" lengthAdjust="spacingAndGlyphs">simnisge.</text>
<text x="612.2" y="1972.9" font-size="28" font-weight="bold" fill="#1c1d1f" textLength="219.9" lengthAdjust="spacingAndGlyphs">Heat Pressinge</text>
<text x="1421.5" y="1534.0" font-size="28" font-weight="bold" fill="#1c1d1f" textLength="231.6" lengthAdjust="spacingAndGlyphs">Alrpi Jostchpling</text>
<text x="1421.5" y="1563.7" font-size="23.6" stroke="#1c1d1f" stroke-width="0.35" fill="#1c1d1f" textLength="245.4" lengthAdjust="spacingAndGlyphs">dpyuspery deessmics</text>
<text x="1421.5" y="1592.9" font-size="23.6" stroke="#1c1d1f" stroke-width="0.35" fill="#1c1d1f" textLength="79.5" lengthAdjust="spacingAndGlyphs">laltage</text>
<text x="1860.4" y="1648.5" font-size="23.6" stroke="#1c1d1f" stroke-width="0.35" fill="#1c1d1f" textLength="133.6" lengthAdjust="spacingAndGlyphs">Floount tike</text>
<text x="1860.4" y="1677.2" font-size="23.6" stroke="#1c1d1f" stroke-width="0.35" fill="#1c1d1f" textLength="129.3" lengthAdjust="spacingAndGlyphs">trgmaydtill</text>
<text x="1860.4" y="1705.3" font-size="23.6" stroke="#1c1d1f" stroke-width="0.35" fill="#1c1d1f" textLength="160.0" lengthAdjust="spacingAndGlyphs">wds er do wlen</text>
<text x="1871.0" y="1759.8" font-size="23.6" stroke="#1c1d1f" stroke-width="0.35" fill="#1c1d1f" textLength="128.2" lengthAdjust="spacingAndGlyphs">Prow tirour</text>
<text x="1871.0" y="1788.5" font-size="23.6" stroke="#1c1d1f" stroke-width="0.35" fill="#1c1d1f" textLength="136.2" lengthAdjust="spacingAndGlyphs">prappertiont</text>
<text x="1871.0" y="1815.0" font-size="23.6" stroke="#1c1d1f" stroke-width="0.35" fill="#1c1d1f" textLength="149.4" lengthAdjust="spacingAndGlyphs">tounier oulce</text>
<text x="1869.4" y="1841.5" font-size="23.6" stroke="#1c1d1f" stroke-width="0.35" fill="#1c1d1f" textLength="97.0" lengthAdjust="spacingAndGlyphs">slinnnge.</text>
<text x="1136.9" y="1966.6" font-size="28" font-weight="bold" fill="#1c1d1f" textLength="162.7" lengthAdjust="spacingAndGlyphs">Prinnsshon</text>
<text x="1160.7" y="1999.4" font-size="28" font-weight="bold" fill="#1c1d1f" textLength="116.1" lengthAdjust="spacingAndGlyphs">Proising</text>
<text x="1553.0" y="1982.5" font-size="28" font-weight="bold" fill="#1c1d1f" textLength="260.7" lengthAdjust="spacingAndGlyphs">Cnos Soar kopsing</text>
</g>

</svg>
</body></html>
